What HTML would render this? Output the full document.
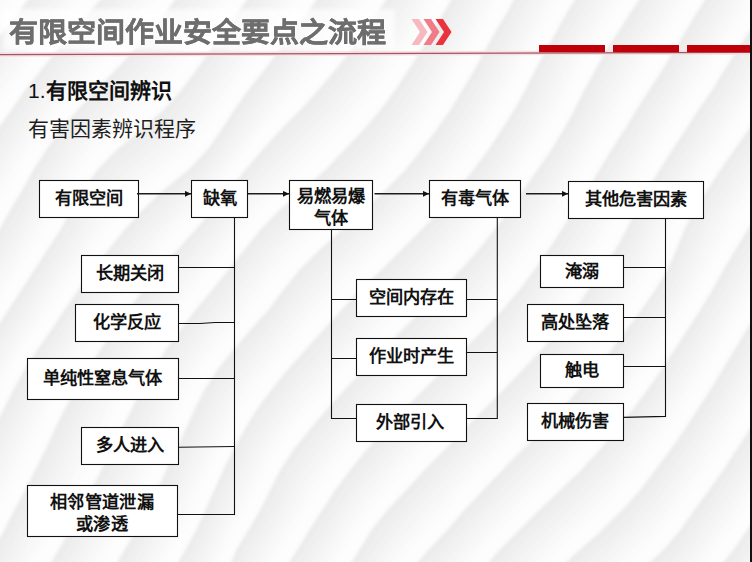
<!DOCTYPE html>
<html lang="zh-CN">
<head>
<meta charset="utf-8">
<style>
html,body{margin:0;padding:0;}
body{width:752px;height:562px;overflow:hidden;position:relative;background:#fbfbfb;font-family:"Liberation Sans",sans-serif;}
#bg{position:absolute;left:0;top:0;}
.t{position:absolute;color:#111;font-weight:bold;font-size:17.2px;line-height:22px;text-align:center;display:flex;align-items:center;justify-content:center;white-space:nowrap;letter-spacing:0;box-sizing:border-box;padding-bottom:2px;}
.t2{padding-bottom:0;padding-top:4px;}
#title{position:absolute;left:9px;top:15.4px;font-size:29px;line-height:34px;font-weight:700;color:#6e6e6e;white-space:nowrap;text-shadow:0 0 3px #fff,0 0 3px #fff;-webkit-text-stroke:0.4px #6e6e6e;transform:scaleY(0.96);transform-origin:0 15px;}
#h1{position:absolute;left:28px;top:78px;font-size:21px;line-height:26px;color:#111;white-space:nowrap;}
#h1 b{font-weight:bold;}
#h2{position:absolute;left:28px;top:116px;font-size:21px;line-height:26px;color:#1e1e1e;white-space:nowrap;}
</style>
</head>
<body>
<svg id="bg" width="752" height="562" viewBox="0 0 752 562">
  <defs>
    <filter id="bl" x="-5%" y="-5%" width="110%" height="110%"><feGaussianBlur stdDeviation="1.5"/></filter>
  </defs>
  
  <g filter="url(#bl)"><path fill="#ececec" d="M-18,-30L-33,-10L-47,10L-61,30L-75,50L-88,70L-101,90L-114,110L-127,130L-139,150L-152,170L-164,190L-176,210L-189,230L-200,250L-200,270L-200,290L-200,310L-200,330L-200,350L-200,370L-200,390L-200,410L-200,430L-200,450L-200,470L-200,490L-200,510L-200,530L-200,550L-200,570L-200,590L-200,590L-200,570L-200,550L-200,530L-200,510L-200,490L-200,470L-200,450L-200,430L-200,410L-200,390L-200,370L-200,350L-200,330L-200,310L-200,290L-200,270L-193,250L-181,230L-168,210L-156,190L-144,170L-131,150L-119,130L-106,110L-94,90L-80,70L-67,50L-53,30L-39,10L-24,-10L-9,-30ZM51,-30L35,-10L20,10L4,30L-11,50L-25,70L-39,90L-52,110L-65,130L-77,150L-89,170L-101,190L-113,210L-126,230L-138,250L-151,270L-163,290L-176,310L-188,330L-200,350L-200,370L-200,390L-200,410L-200,430L-200,450L-200,470L-200,490L-200,510L-200,530L-200,550L-200,570L-200,590L-200,590L-200,570L-200,550L-200,530L-200,510L-200,490L-200,470L-200,450L-200,430L-200,410L-200,390L-200,370L-193,350L-181,330L-168,310L-155,290L-143,270L-130,250L-118,230L-106,210L-93,190L-81,170L-69,150L-57,130L-44,110L-31,90L-17,70L-2,50L13,30L28,10L44,-10L60,-30ZM124,-30L108,-10L91,10L74,30L57,50L41,70L25,90L11,110L-3,130L-15,150L-27,170L-39,190L-51,210L-63,230L-75,250L-88,270L-100,290L-113,310L-126,330L-139,350L-151,370L-164,390L-176,410L-188,430L-200,450L-200,470L-200,490L-200,510L-200,530L-200,550L-200,570L-200,590L-200,590L-200,570L-200,550L-200,530L-200,510L-200,490L-200,470L-193,450L-180,430L-168,410L-156,390L-143,370L-131,350L-118,330L-105,310L-93,290L-80,270L-67,250L-55,230L-43,210L-32,190L-20,170L-8,150L5,130L19,110L33,90L49,70L66,50L83,30L100,10L117,-10L133,-30ZM197,-30L182,-10L167,10L151,30L134,50L115,70L96,90L77,110L60,130L46,150L33,170L22,190L10,210L-1,230L-13,250L-26,270L-38,290L-51,310L-64,330L-77,350L-90,370L-103,390L-115,410L-127,430L-138,450L-150,470L-162,490L-174,510L-186,530L-198,550L-200,570L-200,590L-200,590L-200,570L-190,550L-178,530L-166,510L-154,490L-143,470L-131,450L-119,430L-107,410L-95,390L-83,370L-70,350L-57,330L-44,310L-31,290L-18,270L-6,250L6,230L18,210L29,190L41,170L54,150L68,130L86,110L106,90L125,70L144,50L161,30L176,10L191,-10L206,-30ZM268,-30L254,-10L239,10L225,30L210,50L196,70L181,90L163,110L141,130L116,150L97,170L83,190L71,210L60,230L47,250L34,270L21,290L8,310L-5,330L-19,350L-31,370L-43,390L-55,410L-66,430L-78,450L-89,470L-100,490L-112,510L-123,530L-135,550L-147,570L-159,590L-151,590L-139,570L-127,550L-115,530L-104,510L-92,490L-81,470L-70,450L-59,430L-48,410L-36,390L-24,370L-12,350L2,330L15,310L28,290L41,270L54,250L67,230L79,210L92,190L106,170L128,150L153,130L174,110L190,90L205,70L219,50L234,30L248,10L262,-10L277,-30ZM337,-30L323,-10L309,10L294,30L279,50L264,70L248,90L234,110L221,130L207,150L188,170L163,190L142,210L124,230L108,250L93,270L78,290L64,310L51,330L37,350L24,370L13,390L3,410L-7,430L-17,450L-28,470L-38,490L-49,510L-60,530L-72,550L-83,570L-95,590L-87,590L-75,570L-64,550L-52,530L-41,510L-31,490L-20,470L-10,450L0,430L10,410L21,390L31,370L44,350L58,330L72,310L86,290L101,270L116,250L133,230L151,210L174,190L197,170L214,150L228,130L241,110L256,90L272,70L288,50L303,30L318,10L332,-10L346,-30ZM405,-30L392,-10L379,10L365,30L351,50L335,70L318,90L300,110L280,130L262,150L245,170L229,190L212,210L195,230L177,250L159,270L143,290L128,310L113,330L100,350L87,370L75,390L64,410L54,430L45,450L35,470L25,490L14,510L4,530L-7,550L-19,570L-30,590L-22,590L-11,570L1,550L12,530L23,510L33,490L43,470L53,450L63,430L73,410L83,390L95,370L108,350L121,330L136,310L152,290L168,270L185,250L203,230L220,210L236,190L253,170L271,150L290,130L310,110L328,90L345,70L360,50L374,30L388,10L400,-10L413,-30ZM469,-30L457,-10L445,10L433,30L421,50L408,70L395,90L380,110L363,130L344,150L325,170L303,190L279,210L260,230L244,250L228,270L212,290L195,310L180,330L165,350L153,370L141,390L131,410L121,430L111,450L101,470L91,490L81,510L70,530L58,550L47,570L35,590L43,590L55,570L67,550L78,530L89,510L99,490L110,470L120,450L129,430L139,410L149,390L161,370L174,350L188,330L204,310L220,290L237,270L252,250L269,230L290,210L314,190L335,170L355,150L373,130L389,110L403,90L417,70L429,50L442,30L453,10L465,-10L477,-30ZM531,-30L519,-10L508,10L496,30L485,50L474,70L462,90L450,110L436,130L421,150L405,170L385,190L364,210L341,230L319,250L299,270L283,290L268,310L250,330L233,350L217,370L204,390L194,410L185,430L176,450L166,470L157,490L147,510L136,530L124,550L113,570L100,590L108,590L121,570L133,550L144,530L155,510L164,490L174,470L183,450L193,430L202,410L212,390L226,370L242,350L259,330L277,310L292,290L309,270L329,250L352,230L374,210L395,190L413,170L430,150L445,130L458,110L470,90L482,70L493,50L504,30L515,10L527,-10L539,-30ZM593,-30L581,-10L568,10L557,30L546,50L535,70L525,90L514,110L501,130L488,150L473,170L457,190L440,210L421,230L401,250L381,270L360,290L341,310L323,330L305,350L287,370L271,390L256,410L244,430L233,450L223,470L214,490L205,510L196,530L185,550L174,570L163,590L170,590L181,570L192,550L202,530L212,510L220,490L230,470L240,450L251,430L264,410L280,390L296,370L314,350L332,330L351,310L371,290L391,270L411,250L430,230L449,210L466,190L481,170L496,150L509,130L521,110L532,90L542,70L553,50L564,30L576,10L588,-10L601,-30ZM658,-30L645,-10L632,10L619,30L606,50L595,70L584,90L574,110L563,130L551,150L537,170L523,190L509,210L494,230L478,250L460,270L442,290L422,310L402,330L382,350L363,370L344,390L326,410L309,430L293,450L280,470L270,490L260,510L248,530L236,550L228,570L219,590L225,590L235,570L243,550L256,530L267,510L277,490L288,470L302,450L318,430L335,410L354,390L373,370L392,350L412,330L432,310L452,290L470,270L487,250L502,230L517,210L531,190L545,170L558,150L571,130L582,110L592,90L603,70L615,50L628,30L641,10L654,-10L667,-30ZM724,-30L711,-10L698,10L686,30L674,50L662,70L649,90L636,110L624,130L611,150L599,170L587,190L574,210L561,230L548,250L534,270L519,290L502,310L483,330L463,350L443,370L423,390L403,410L384,430L366,450L350,470L335,490L322,510L309,530L297,550L284,570L273,590L281,590L292,570L304,550L317,530L330,510L343,490L359,470L376,450L394,430L413,410L433,390L453,370L474,350L493,330L511,310L527,290L542,270L556,250L570,230L582,210L595,190L606,170L619,150L632,130L644,110L657,90L670,70L682,50L694,30L706,10L719,-10L732,-30ZM788,-30L775,-10L763,10L750,30L737,50L724,70L712,90L698,110L685,130L672,150L659,170L647,190L636,210L626,230L615,250L602,270L588,290L574,310L558,330L541,350L522,370L503,390L483,410L463,430L444,450L424,470L406,490L387,510L371,530L359,550L346,570L334,590L342,590L354,570L367,550L380,530L397,510L415,490L434,470L454,450L473,430L493,410L513,390L532,370L550,350L567,330L582,310L597,290L611,270L623,250L633,230L644,210L655,190L667,170L680,150L693,130L706,110L719,90L732,70L745,50L758,30L771,10L783,-10L796,-30ZM852,-30L839,-10L827,10L814,30L801,50L787,70L774,90L761,110L748,130L734,150L720,170L707,190L694,210L684,230L676,250L667,270L655,290L641,310L626,330L611,350L595,370L578,390L560,410L542,430L522,450L502,470L483,490L464,510L447,530L428,550L411,570L397,590L405,590L420,570L438,550L456,530L473,510L492,490L512,470L532,450L551,430L570,410L587,390L604,370L619,350L634,330L648,310L662,290L674,270L683,250L691,230L702,210L715,190L728,170L742,150L756,130L769,110L782,90L795,70L808,50L822,30L835,10L848,-10L861,-30ZM917,-30L904,-10L891,10L878,30L865,50L851,70L838,90L825,110L812,130L798,150L785,170L772,190L759,210L747,230L735,250L723,270L712,290L700,310L687,330L674,350L661,370L647,390L632,410L616,430L599,450L581,470L560,490L539,510L519,530L499,550L482,570L465,590L474,590L490,570L509,550L528,530L550,510L571,490L590,470L608,450L625,430L640,410L655,390L668,370L682,350L695,330L707,310L719,290L731,270L742,250L755,230L767,210L780,190L793,170L806,150L820,130L833,110L846,90L859,70L873,50L886,30L899,10L912,-10L925,-30ZM959,-30L959,-10L955,10L942,30L929,50L916,70L903,90L889,110L876,130L863,150L850,170L836,190L823,210L810,230L797,250L785,270L772,290L759,310L746,330L734,350L722,370L710,390L697,410L684,430L670,450L655,470L640,490L622,510L602,530L579,550L558,570L539,590L549,590L569,570L590,550L612,530L632,510L649,490L664,470L678,450L692,430L705,410L718,390L730,370L742,350L754,330L767,310L780,290L793,270L805,250L818,230L831,210L845,190L858,170L871,150L884,130L898,110L911,90L924,70L937,50L950,30L959,10L959,-10L959,-30ZM959,-30L959,-10L959,10L959,30L959,50L959,70L959,90L954,110L941,130L928,150L915,170L901,190L888,210L875,230L862,250L849,270L836,290L823,310L810,330L797,350L785,370L773,390L761,410L749,430L736,450L723,470L709,490L694,510L680,530L663,550L641,570L621,590L631,590L651,570L673,550L688,530L703,510L717,490L731,470L744,450L757,430L769,410L781,390L793,370L805,350L818,330L831,310L844,290L857,270L870,250L883,230L896,210L909,190L923,170L936,150L949,130L959,110L959,90L959,70L959,50L959,30L959,10L959,-10L959,-30ZM959,-30L959,-10L959,10L959,30L959,50L959,70L959,90L959,110L959,130L959,150L959,170L959,190L953,210L940,230L927,250L914,270L901,290L888,310L875,330L862,350L850,370L837,390L825,410L813,430L800,450L788,470L774,490L761,510L747,530L733,550L717,570L700,590L709,590L726,570L741,550L755,530L769,510L783,490L796,470L808,450L821,430L833,410L845,390L858,370L870,350L883,330L896,310L909,290L922,270L935,250L948,230L959,210L959,190L959,170L959,150L959,130L959,110L959,90L959,70L959,50L959,30L959,10L959,-10L959,-30ZM959,-30L959,-10L959,10L959,30L959,50L959,70L959,90L959,110L959,130L959,150L959,170L959,190L959,210L959,230L959,250L959,270L959,290L953,310L940,330L927,350L915,370L902,390L889,410L877,430L864,450L852,470L839,490L826,510L812,530L798,550L784,570L769,590L777,590L792,570L807,550L820,530L834,510L847,490L860,470L872,450L885,430L897,410L910,390L923,370L936,350L949,330L959,310L959,290L959,270L959,250L959,230L959,210L959,190L959,170L959,150L959,130L959,110L959,90L959,70L959,50L959,30L959,10L959,-10L959,-30Z"/><path fill="#efefef" d="M-9,-30L-24,-10L-39,10L-53,30L-67,50L-80,70L-94,90L-106,110L-119,130L-131,150L-144,170L-156,190L-168,210L-181,230L-193,250L-200,270L-200,290L-200,310L-200,330L-200,350L-200,370L-200,390L-200,410L-200,430L-200,450L-200,470L-200,490L-200,510L-200,530L-200,550L-200,570L-200,590L-200,590L-200,570L-200,550L-200,530L-200,510L-200,490L-200,470L-200,450L-200,430L-200,410L-200,390L-200,370L-200,350L-200,330L-200,310L-200,290L-198,270L-185,250L-173,230L-161,210L-148,190L-136,170L-124,150L-111,130L-99,110L-86,90L-73,70L-59,50L-45,30L-31,10L-16,-10L-1,-30ZM60,-30L44,-10L28,10L13,30L-2,50L-17,70L-31,90L-44,110L-57,130L-69,150L-81,170L-93,190L-106,210L-118,230L-130,250L-143,270L-155,290L-168,310L-181,330L-193,350L-200,370L-200,390L-200,410L-200,430L-200,450L-200,470L-200,490L-200,510L-200,530L-200,550L-200,570L-200,590L-200,590L-200,570L-200,550L-200,530L-200,510L-200,490L-200,470L-200,450L-200,430L-200,410L-200,390L-198,370L-185,350L-173,330L-160,310L-147,290L-135,270L-122,250L-110,230L-98,210L-86,190L-74,170L-61,150L-49,130L-36,110L-23,90L-9,70L6,50L21,30L37,10L53,-10L69,-30ZM133,-30L117,-10L100,10L83,30L66,50L49,70L33,90L19,110L5,130L-8,150L-20,170L-32,190L-43,210L-55,230L-67,250L-80,270L-93,290L-105,310L-118,330L-131,350L-143,370L-156,390L-168,410L-180,430L-193,450L-200,470L-200,490L-200,510L-200,530L-200,550L-200,570L-200,590L-200,590L-200,570L-200,550L-200,530L-200,510L-200,490L-197,470L-185,450L-173,430L-160,410L-148,390L-136,370L-123,350L-110,330L-98,310L-85,290L-72,270L-60,250L-48,230L-36,210L-24,190L-12,170L-0,150L13,130L26,110L42,90L58,70L75,50L93,30L110,10L126,-10L142,-30ZM206,-30L191,-10L176,10L161,30L144,50L125,70L106,90L86,110L68,130L54,150L41,170L29,190L18,210L6,230L-6,250L-18,270L-31,290L-44,310L-57,330L-70,350L-83,370L-95,390L-107,410L-119,430L-131,450L-143,470L-154,490L-166,510L-178,530L-190,550L-200,570L-200,590L-200,590L-194,570L-182,550L-170,530L-158,510L-147,490L-135,470L-123,450L-111,430L-100,410L-88,390L-75,370L-62,350L-49,330L-36,310L-23,290L-11,270L2,250L14,230L26,210L37,190L49,170L62,150L77,130L96,110L116,90L136,70L154,50L170,30L186,10L200,-10L215,-30ZM277,-30L262,-10L248,10L234,30L219,50L205,70L190,90L174,110L153,130L128,150L106,170L92,190L79,210L67,230L54,250L41,270L28,290L15,310L2,330L-12,350L-24,370L-36,390L-48,410L-59,430L-70,450L-81,470L-92,490L-104,510L-115,530L-127,550L-139,570L-151,590L-143,590L-131,570L-119,550L-107,530L-96,510L-85,490L-74,470L-63,450L-52,430L-40,410L-29,390L-17,370L-5,350L9,330L22,310L35,290L48,270L62,250L75,230L87,210L101,190L117,170L141,150L166,130L184,110L199,90L214,70L228,50L242,30L257,10L271,-10L285,-30ZM346,-30L332,-10L318,10L303,30L288,50L272,70L256,90L241,110L228,130L214,150L197,170L174,190L151,210L133,230L116,250L101,270L86,290L72,310L58,330L44,350L31,370L21,390L10,410L0,430L-10,450L-20,470L-31,490L-41,510L-52,530L-64,550L-75,570L-87,590L-79,590L-67,570L-56,550L-44,530L-33,510L-23,490L-12,470L-2,450L8,430L18,410L28,390L39,370L52,350L65,330L79,310L94,290L109,270L125,250L142,230L161,210L183,190L205,170L221,150L235,130L249,110L264,90L281,70L297,50L312,30L327,10L341,-10L354,-30ZM413,-30L400,-10L388,10L374,30L360,50L345,70L328,90L310,110L290,130L271,150L253,170L236,190L220,210L203,230L185,250L168,270L152,290L136,310L121,330L108,350L95,370L83,390L73,410L63,430L53,450L43,470L33,490L23,510L12,530L1,550L-11,570L-22,590L-14,590L-2,570L9,550L20,530L31,510L41,490L51,470L61,450L71,430L81,410L92,390L103,370L116,350L130,330L144,310L160,290L177,270L194,250L211,230L228,210L244,190L261,170L280,150L300,130L320,110L338,90L354,70L369,50L383,30L396,10L409,-10L421,-30ZM477,-30L465,-10L453,10L442,30L429,50L417,70L403,90L389,110L373,130L355,150L335,170L314,190L290,210L269,230L252,250L237,270L220,290L204,310L188,330L174,350L161,370L149,390L139,410L129,430L120,450L110,470L99,490L89,510L78,530L67,550L55,570L43,590L51,590L63,570L75,550L86,530L97,510L108,490L118,470L128,450L138,430L147,410L157,390L169,370L182,350L197,330L213,310L229,290L245,270L261,250L279,230L301,210L325,190L345,170L365,150L383,130L398,110L412,90L425,70L438,50L450,30L461,10L473,-10L485,-30ZM539,-30L527,-10L515,10L504,30L493,50L482,70L470,90L458,110L445,130L430,150L413,170L395,190L374,210L352,230L329,250L309,270L292,290L277,310L259,330L242,350L226,370L212,390L202,410L193,430L183,450L174,470L164,490L155,510L144,530L133,550L121,570L108,590L116,590L129,570L140,550L152,530L162,510L172,490L181,470L191,450L200,430L209,410L220,390L235,370L251,350L268,330L285,310L301,290L319,270L340,250L362,230L384,210L404,190L422,170L438,150L453,130L466,110L478,90L490,70L501,50L512,30L523,10L534,-10L546,-30ZM601,-30L588,-10L576,10L564,30L553,50L542,70L532,90L521,110L509,130L496,150L481,170L466,190L449,210L430,230L411,250L391,270L371,290L351,310L332,330L314,350L296,370L280,390L264,410L251,430L240,450L230,470L220,490L212,510L202,530L192,550L181,570L170,590L177,590L188,570L199,550L209,530L218,510L227,490L237,470L247,450L259,430L273,410L288,390L306,370L324,350L342,330L361,310L381,290L401,270L421,250L440,230L458,210L474,190L490,170L504,150L517,130L529,110L540,90L550,70L560,50L572,30L584,10L596,-10L609,-30ZM667,-30L654,-10L641,10L628,30L615,50L603,70L592,90L582,110L571,130L558,150L545,170L531,190L517,210L502,230L487,250L470,270L452,290L432,310L412,330L392,350L373,370L354,390L335,410L318,430L302,450L288,470L277,490L267,510L256,530L243,550L235,570L225,590L232,590L241,570L250,550L263,530L275,510L285,490L297,470L311,450L327,430L345,410L363,390L383,370L402,350L422,330L442,310L462,290L479,270L496,250L511,230L525,210L539,190L553,170L566,150L578,130L589,110L600,90L611,70L623,50L636,30L649,10L662,-10L675,-30ZM732,-30L719,-10L706,10L694,30L682,50L670,70L657,90L644,110L632,130L619,150L606,170L595,190L582,210L570,230L556,250L542,270L527,290L511,310L493,330L474,350L453,370L433,390L413,410L394,430L376,450L359,470L343,490L330,510L317,530L304,550L292,570L281,590L288,590L300,570L312,550L325,530L338,510L352,490L368,470L385,450L404,430L423,410L443,390L464,370L483,350L503,330L520,310L536,290L551,270L565,250L578,230L590,210L602,190L614,170L627,150L640,130L652,110L665,90L678,70L690,50L702,30L715,10L727,-10L740,-30ZM796,-30L783,-10L771,10L758,30L745,50L732,70L719,90L706,110L693,130L680,150L667,170L655,190L644,210L633,230L623,250L611,270L597,290L582,310L567,330L550,350L532,370L513,390L493,410L473,430L454,450L434,470L415,490L397,510L380,530L367,550L354,570L342,590L349,590L362,570L375,550L389,530L407,510L425,490L444,470L463,450L483,430L503,410L522,390L541,370L559,350L575,330L591,310L605,290L619,270L631,250L641,230L651,210L662,190L674,170L687,150L701,130L714,110L727,90L740,70L753,50L766,30L779,10L791,-10L804,-30ZM861,-30L848,-10L835,10L822,30L808,50L795,70L782,90L769,110L756,130L742,150L728,170L715,190L702,210L691,230L683,250L674,270L662,290L648,310L634,330L619,350L604,370L587,390L570,410L551,430L532,450L512,470L492,490L473,510L456,530L438,550L420,570L405,590L413,590L429,570L447,550L464,530L482,510L501,490L521,470L541,450L561,430L579,410L596,390L612,370L627,350L642,330L656,310L670,290L681,270L690,250L699,230L710,210L723,190L736,170L750,150L763,130L777,110L790,90L803,70L816,50L830,30L843,10L856,-10L869,-30ZM925,-30L912,-10L899,10L886,30L873,50L859,70L846,90L833,110L820,130L806,150L793,170L780,190L767,210L755,230L742,250L731,270L719,290L707,310L695,330L682,350L668,370L655,390L640,410L625,430L608,450L590,470L571,490L550,510L528,530L509,550L490,570L474,590L483,590L500,570L518,550L538,530L560,510L581,490L600,470L618,450L633,430L648,410L663,390L676,370L689,350L702,330L714,310L726,290L738,270L750,250L763,230L775,210L788,190L801,170L814,150L828,130L841,110L854,90L867,70L881,50L894,30L907,10L920,-10L933,-30ZM959,-30L959,-10L959,10L950,30L937,50L924,70L911,90L898,110L884,130L871,150L858,170L845,190L831,210L818,230L805,250L793,270L780,290L767,310L754,330L742,350L730,370L718,390L705,410L692,430L678,450L664,470L649,490L632,510L612,530L590,550L569,570L549,590L559,590L579,570L601,550L622,530L641,510L658,490L672,470L686,450L700,430L713,410L726,390L738,370L750,350L762,330L775,310L788,290L800,270L813,250L826,230L839,210L853,190L866,170L879,150L892,130L906,110L919,90L932,70L945,50L959,30L959,10L959,-10L959,-30ZM959,-30L959,-10L959,10L959,30L959,50L959,70L959,90L959,110L949,130L936,150L923,170L909,190L896,210L883,230L870,250L857,270L844,290L831,310L818,330L805,350L793,370L781,390L769,410L757,430L744,450L731,470L717,490L703,510L688,530L673,550L651,570L631,590L641,590L662,570L682,550L697,530L711,510L725,490L739,470L752,450L765,430L777,410L789,390L801,370L813,350L826,330L839,310L852,290L865,270L878,250L891,230L904,210L918,190L931,170L944,150L957,130L959,110L959,90L959,70L959,50L959,30L959,10L959,-10L959,-30ZM959,-30L959,-10L959,10L959,30L959,50L959,70L959,90L959,110L959,130L959,150L959,170L959,190L959,210L948,230L935,250L922,270L909,290L896,310L883,330L870,350L858,370L845,390L833,410L821,430L808,450L796,470L783,490L769,510L755,530L741,550L726,570L709,590L718,590L734,570L749,550L763,530L777,510L791,490L804,470L816,450L829,430L841,410L853,390L866,370L879,350L891,330L904,310L917,290L930,270L943,250L957,230L959,210L959,190L959,170L959,150L959,130L959,110L959,90L959,70L959,50L959,30L959,10L959,-10L959,-30ZM959,-30L959,-10L959,10L959,30L959,50L959,70L959,90L959,110L959,130L959,150L959,170L959,190L959,210L959,230L959,250L959,270L959,290L959,310L949,330L936,350L923,370L910,390L897,410L885,430L872,450L860,470L847,490L834,510L820,530L807,550L792,570L777,590L786,590L801,570L815,550L828,530L842,510L855,490L868,470L880,450L893,430L906,410L918,390L931,370L944,350L957,330L959,310L959,290L959,270L959,250L959,230L959,210L959,190L959,170L959,150L959,130L959,110L959,90L959,70L959,50L959,30L959,10L959,-10L959,-30Z"/><path fill="#f2f2f2" d="M-1,-30L-16,-10L-31,10L-45,30L-59,50L-73,70L-86,90L-99,110L-111,130L-124,150L-136,170L-148,190L-161,210L-173,230L-185,250L-198,270L-200,290L-200,310L-200,330L-200,350L-200,370L-200,390L-200,410L-200,430L-200,450L-200,470L-200,490L-200,510L-200,530L-200,550L-200,570L-200,590L-200,590L-200,570L-200,550L-200,530L-200,510L-200,490L-200,470L-200,450L-200,430L-200,410L-200,390L-200,370L-200,350L-200,330L-200,310L-200,290L-190,270L-177,250L-165,230L-153,210L-140,190L-128,170L-116,150L-103,130L-91,110L-78,90L-65,70L-51,50L-37,30L-22,10L-7,-10L8,-30ZM69,-30L53,-10L37,10L21,30L6,50L-9,70L-23,90L-36,110L-49,130L-61,150L-74,170L-86,190L-98,210L-110,230L-122,250L-135,270L-147,290L-160,310L-173,330L-185,350L-198,370L-200,390L-200,410L-200,430L-200,450L-200,470L-200,490L-200,510L-200,530L-200,550L-200,570L-200,590L-200,590L-200,570L-200,550L-200,530L-200,510L-200,490L-200,470L-200,450L-200,430L-200,410L-200,390L-190,370L-177,350L-165,330L-152,310L-140,290L-127,270L-114,250L-102,230L-90,210L-78,190L-66,170L-54,150L-41,130L-29,110L-15,90L-1,70L14,50L30,30L46,10L62,-10L78,-30ZM142,-30L126,-10L110,10L93,30L75,50L58,70L42,90L26,110L13,130L-0,150L-12,170L-24,190L-36,210L-48,230L-60,250L-72,270L-85,290L-98,310L-110,330L-123,350L-136,370L-148,390L-160,410L-173,430L-185,450L-197,470L-200,490L-200,510L-200,530L-200,550L-200,570L-200,590L-200,590L-200,570L-200,550L-200,530L-200,510L-200,490L-189,470L-177,450L-165,430L-153,410L-141,390L-128,370L-116,350L-103,330L-90,310L-77,290L-64,270L-52,250L-40,230L-28,210L-16,190L-5,170L8,150L20,130L35,110L50,90L67,70L85,50L102,30L119,10L136,-10L152,-30ZM215,-30L200,-10L186,10L170,30L154,50L136,70L116,90L96,110L77,130L62,150L49,170L37,190L26,210L14,230L2,250L-11,270L-23,290L-36,310L-49,330L-62,350L-75,370L-88,390L-100,410L-111,430L-123,450L-135,470L-147,490L-158,510L-170,530L-182,550L-194,570L-200,590L-198,590L-186,570L-174,550L-162,530L-151,510L-139,490L-127,470L-115,450L-104,430L-92,410L-80,390L-68,370L-55,350L-42,330L-28,310L-16,290L-3,270L9,250L22,230L33,210L45,190L56,170L70,150L86,130L106,110L127,90L146,70L164,50L180,30L195,10L209,-10L224,-30ZM285,-30L271,-10L257,10L242,30L228,50L214,70L199,90L184,110L166,130L141,150L117,170L101,190L87,210L75,230L62,250L48,270L35,290L22,310L9,330L-5,350L-17,370L-29,390L-40,410L-52,430L-63,450L-74,470L-85,490L-96,510L-107,530L-119,550L-131,570L-143,590L-135,590L-123,570L-111,550L-100,530L-88,510L-77,490L-66,470L-55,450L-44,430L-33,410L-22,390L-10,370L2,350L15,330L29,310L42,290L56,270L69,250L82,230L95,210L110,190L129,170L154,150L178,130L194,110L208,90L222,70L236,50L251,30L266,10L280,-10L294,-30ZM354,-30L341,-10L327,10L312,30L297,50L281,70L264,90L249,110L235,130L221,150L205,170L183,190L161,210L142,230L125,250L109,270L94,290L79,310L65,330L52,350L39,370L28,390L18,410L8,430L-2,450L-12,470L-23,490L-33,510L-44,530L-56,550L-67,570L-79,590L-71,590L-59,570L-48,550L-36,530L-26,510L-15,490L-5,470L5,450L15,430L25,410L35,390L46,370L59,350L73,330L87,310L102,290L117,270L133,250L151,230L171,210L192,190L212,170L227,150L242,130L256,110L273,90L289,70L306,50L321,30L336,10L349,-10L363,-30ZM421,-30L409,-10L396,10L383,30L369,50L354,70L338,90L320,110L300,130L280,150L261,170L244,190L228,210L211,230L194,250L177,270L160,290L144,310L130,330L116,350L103,370L92,390L81,410L71,430L61,450L51,470L41,490L31,510L20,530L9,550L-2,570L-14,590L-6,590L6,570L17,550L28,530L39,510L49,490L59,470L69,450L79,430L89,410L100,390L112,370L124,350L138,330L153,310L169,290L185,270L202,250L219,230L235,210L252,190L270,170L290,150L310,130L330,110L348,90L364,70L378,50L392,30L404,10L417,-10L429,-30ZM485,-30L473,-10L461,10L450,30L438,50L425,70L412,90L398,110L383,130L365,150L345,170L325,190L301,210L279,230L261,250L245,270L229,290L213,310L197,330L182,350L169,370L157,390L147,410L138,430L128,450L118,470L108,490L97,510L86,530L75,550L63,570L51,590L60,590L72,570L83,550L95,530L106,510L116,490L126,470L136,450L146,430L155,410L165,390L177,370L190,350L205,330L222,310L238,290L254,270L270,250L289,230L312,210L335,190L355,170L375,150L392,130L407,110L421,90L434,70L446,50L458,30L469,10L481,-10L492,-30ZM546,-30L534,-10L523,10L512,30L501,50L490,70L478,90L466,110L453,130L438,150L422,170L404,190L384,210L362,230L340,250L319,270L301,290L285,310L268,330L251,350L235,370L220,390L209,410L200,430L191,450L181,470L172,490L162,510L152,530L140,550L129,570L116,590L124,590L137,570L148,550L160,530L170,510L179,490L188,470L198,450L207,430L217,410L229,390L243,370L260,350L277,330L294,310L310,290L329,270L350,250L372,230L394,210L413,190L431,170L447,150L461,130L474,110L486,90L497,70L508,50L519,30L530,10L542,-10L554,-30ZM609,-30L596,-10L584,10L572,30L560,50L550,70L540,90L529,110L517,130L504,150L490,170L474,190L458,210L440,230L421,250L401,270L381,290L361,310L342,330L324,350L306,370L288,390L273,410L259,430L247,450L237,470L227,490L218,510L209,530L199,550L188,570L177,590L184,590L195,570L205,550L215,530L225,510L234,490L244,470L254,450L267,430L281,410L297,390L315,370L333,350L352,330L371,310L391,290L411,270L431,250L449,230L467,210L483,190L498,170L512,150L525,130L536,110L547,90L557,70L568,50L579,30L592,10L604,-10L617,-30ZM675,-30L662,-10L649,10L636,30L623,50L611,70L600,90L589,110L578,130L566,150L553,170L539,190L525,210L511,230L496,250L479,270L462,290L442,310L422,330L402,350L383,370L363,390L345,410L327,430L311,450L297,470L285,490L275,510L263,530L250,550L241,570L232,590L239,590L248,570L258,550L271,530L282,510L293,490L305,470L320,450L337,430L354,410L373,390L393,370L413,350L433,330L452,310L471,290L489,270L505,250L520,230L534,210L547,190L561,170L574,150L586,130L597,110L608,90L619,70L632,50L645,30L657,10L670,-10L683,-30ZM740,-30L727,-10L715,10L702,30L690,50L678,70L665,90L652,110L640,130L627,150L614,170L602,190L590,210L578,230L565,250L551,270L536,290L520,310L503,330L483,350L464,370L443,390L423,410L404,430L385,450L368,470L352,490L338,510L325,530L312,550L300,570L288,590L296,590L307,570L320,550L333,530L345,510L360,490L377,470L395,450L414,430L433,410L453,390L474,370L493,350L512,330L529,310L545,290L560,270L573,250L586,230L598,210L610,190L622,170L635,150L647,130L660,110L673,90L685,70L698,50L710,30L723,10L735,-10L748,-30ZM804,-30L791,-10L779,10L766,30L753,50L740,70L727,90L714,110L701,130L687,150L674,170L662,190L651,210L641,230L631,250L619,270L605,290L591,310L575,330L559,350L541,370L522,390L503,410L483,430L463,450L444,470L425,490L407,510L389,530L375,550L362,570L349,590L357,590L370,570L383,550L398,530L416,510L435,490L454,470L473,450L493,430L513,410L532,390L550,370L568,350L584,330L599,310L614,290L627,270L639,250L648,230L658,210L669,190L682,170L695,150L708,130L722,110L735,90L748,70L761,50L774,30L787,10L799,-10L812,-30ZM869,-30L856,-10L843,10L830,30L816,50L803,70L790,90L777,110L763,130L750,150L736,170L723,190L710,210L699,230L690,250L681,270L670,290L656,310L642,330L627,350L612,370L596,390L579,410L561,430L541,450L521,470L501,490L482,510L464,530L447,550L429,570L413,590L422,590L438,570L456,550L473,530L491,510L511,490L531,470L551,450L570,430L588,410L605,390L620,370L635,350L650,330L664,310L677,290L688,270L697,250L706,230L718,210L731,190L744,170L758,150L771,130L785,110L798,90L811,70L824,50L838,30L851,10L864,-10L877,-30ZM933,-30L920,-10L907,10L894,30L881,50L867,70L854,90L841,110L828,130L814,150L801,170L788,190L775,210L763,230L750,250L738,270L726,290L714,310L702,330L689,350L676,370L663,390L648,410L633,430L618,450L600,470L581,490L560,510L538,530L518,550L500,570L483,590L492,590L509,570L528,550L549,530L570,510L591,490L610,470L627,450L642,430L657,410L671,390L684,370L697,350L709,330L722,310L734,290L746,270L758,250L770,230L783,210L796,190L809,170L822,150L836,130L849,110L862,90L876,70L889,50L902,30L915,10L928,-10L941,-30ZM959,-30L959,-10L959,10L959,30L945,50L932,70L919,90L906,110L892,130L879,150L866,170L853,190L839,210L826,230L813,250L800,270L788,290L775,310L762,330L750,350L738,370L726,390L713,410L700,430L686,450L672,470L658,490L641,510L622,530L601,550L579,570L559,590L569,590L590,570L611,550L632,530L651,510L666,490L681,470L695,450L708,430L721,410L733,390L745,370L757,350L770,330L783,310L795,290L808,270L821,250L834,230L848,210L861,190L874,170L887,150L900,130L914,110L927,90L940,70L953,50L959,30L959,10L959,-10L959,-30ZM959,-30L959,-10L959,10L959,30L959,50L959,70L959,90L959,110L957,130L944,150L931,170L918,190L904,210L891,230L878,250L865,270L852,290L839,310L826,330L813,350L801,370L789,390L777,410L765,430L752,450L739,470L725,490L711,510L697,530L682,550L662,570L641,590L651,590L672,570L691,550L705,530L720,510L734,490L747,470L760,450L773,430L785,410L797,390L809,370L822,350L834,330L847,310L860,290L873,270L886,250L899,230L913,210L926,190L939,170L952,150L959,130L959,110L959,90L959,70L959,50L959,30L959,10L959,-10L959,-30ZM959,-30L959,-10L959,10L959,30L959,50L959,70L959,90L959,110L959,130L959,150L959,170L959,190L959,210L957,230L943,250L930,270L917,290L904,310L891,330L879,350L866,370L853,390L841,410L829,430L816,450L804,470L791,490L777,510L763,530L749,550L734,570L718,590L727,590L742,570L757,550L772,530L785,510L799,490L812,470L824,450L837,430L849,410L861,390L874,370L887,350L899,330L912,310L925,290L938,270L952,250L959,230L959,210L959,190L959,170L959,150L959,130L959,110L959,90L959,70L959,50L959,30L959,10L959,-10L959,-30Z"/><path fill="#f5f5f5" d="M8,-30L-7,-10L-22,10L-37,30L-51,50L-65,70L-78,90L-91,110L-103,130L-116,150L-128,170L-140,190L-153,210L-165,230L-177,250L-190,270L-200,290L-200,310L-200,330L-200,350L-200,370L-200,390L-200,410L-200,430L-200,450L-200,470L-200,490L-200,510L-200,530L-200,550L-200,570L-200,590L-200,590L-200,570L-200,550L-200,530L-200,510L-200,490L-200,470L-200,450L-200,430L-200,410L-200,390L-200,370L-200,350L-200,330L-200,310L-195,290L-182,270L-170,250L-157,230L-145,210L-132,190L-120,170L-108,150L-96,130L-83,110L-70,90L-57,70L-43,50L-29,30L-14,10L1,-10L16,-30ZM78,-30L62,-10L46,10L30,30L14,50L-1,70L-15,90L-29,110L-41,130L-54,150L-66,170L-78,190L-90,210L-102,230L-114,250L-127,270L-140,290L-152,310L-165,330L-177,350L-190,370L-200,390L-200,410L-200,430L-200,450L-200,470L-200,490L-200,510L-200,530L-200,550L-200,570L-200,590L-200,590L-200,570L-200,550L-200,530L-200,510L-200,490L-200,470L-200,450L-200,430L-200,410L-195,390L-182,370L-170,350L-157,330L-144,310L-132,290L-119,270L-107,250L-94,230L-82,210L-70,190L-58,170L-46,150L-34,130L-21,110L-7,90L7,70L23,50L38,30L55,10L71,-10L87,-30ZM152,-30L136,-10L119,10L102,30L85,50L67,70L50,90L35,110L20,130L8,150L-5,170L-16,190L-28,210L-40,230L-52,250L-64,270L-77,290L-90,310L-103,330L-116,350L-128,370L-141,390L-153,410L-165,430L-177,450L-189,470L-200,490L-200,510L-200,530L-200,550L-200,570L-200,590L-200,590L-200,570L-200,550L-200,530L-200,510L-193,490L-181,470L-169,450L-157,430L-145,410L-133,390L-120,370L-108,350L-95,330L-82,310L-69,290L-57,270L-44,250L-32,230L-20,210L-9,190L3,170L15,150L28,130L43,110L59,90L76,70L94,50L112,30L129,10L145,-10L161,-30ZM224,-30L209,-10L195,10L180,30L164,50L146,70L127,90L106,110L86,130L70,150L56,170L45,190L33,210L22,230L9,250L-3,270L-16,290L-28,310L-42,330L-55,350L-68,370L-80,390L-92,410L-104,430L-115,450L-127,470L-139,490L-151,510L-162,530L-174,550L-186,570L-198,590L-190,590L-178,570L-166,550L-154,530L-143,510L-131,490L-119,470L-108,450L-96,430L-85,410L-73,390L-60,370L-48,350L-34,330L-21,310L-8,290L4,270L17,250L29,230L41,210L52,190L64,170L78,150L95,130L117,110L138,90L157,70L173,50L189,30L204,10L218,-10L233,-30ZM294,-30L280,-10L266,10L251,30L236,50L222,70L208,90L194,110L178,130L154,150L129,170L110,190L95,210L82,230L69,250L56,270L42,290L29,310L15,330L2,350L-10,370L-22,390L-33,410L-44,430L-55,450L-66,470L-77,490L-88,510L-100,530L-111,550L-123,570L-135,590L-127,590L-115,570L-103,550L-92,530L-80,510L-69,490L-58,470L-47,450L-37,430L-26,410L-15,390L-3,370L9,350L22,330L36,310L49,290L63,270L77,250L90,230L104,210L120,190L141,170L167,150L188,130L203,110L216,90L230,70L245,50L260,30L274,10L289,-10L303,-30ZM363,-30L349,-10L336,10L321,30L306,50L289,70L273,90L256,110L242,130L227,150L212,170L192,190L171,210L151,230L133,250L117,270L102,290L87,310L73,330L59,350L46,370L35,390L25,410L15,430L5,450L-5,470L-15,490L-26,510L-36,530L-48,550L-59,570L-71,590L-63,590L-51,570L-40,550L-28,530L-18,510L-7,490L3,470L13,450L23,430L33,410L43,390L54,370L67,350L81,330L95,310L110,290L125,270L142,250L160,230L180,210L200,190L218,170L234,150L249,130L264,110L281,90L298,70L315,50L330,30L344,10L358,-10L371,-30ZM429,-30L417,-10L404,10L392,30L378,50L364,70L348,90L330,110L310,130L290,150L270,170L252,190L235,210L219,230L202,250L185,270L169,290L153,310L138,330L124,350L112,370L100,390L89,410L79,430L69,450L59,470L49,490L39,510L28,530L17,550L6,570L-6,590L2,590L14,570L25,550L36,530L47,510L58,490L68,470L78,450L87,430L98,410L108,390L120,370L132,350L146,330L161,310L177,290L194,270L211,250L227,230L243,210L260,190L280,170L301,150L321,130L340,110L357,90L373,70L387,50L400,30L413,10L425,-10L437,-30ZM492,-30L481,-10L469,10L458,30L446,50L434,70L421,90L407,110L392,130L375,150L355,170L335,190L312,210L289,230L270,250L254,270L238,290L222,310L205,330L190,350L177,370L165,390L155,410L146,430L136,450L126,470L116,490L106,510L95,530L83,550L72,570L60,590L68,590L80,570L92,550L103,530L114,510L125,490L135,470L144,450L154,430L163,410L173,390L185,370L198,350L214,330L231,310L247,290L263,270L279,250L299,230L323,210L345,190L366,170L385,150L401,130L416,110L429,90L442,70L454,50L466,30L477,10L488,-10L500,-30ZM554,-30L542,-10L530,10L519,30L508,50L497,70L486,90L474,110L461,130L447,150L431,170L413,190L394,210L372,230L350,250L329,270L310,290L294,310L277,330L260,350L243,370L229,390L217,410L207,430L198,450L188,470L179,490L170,510L160,530L148,550L137,570L124,590L132,590L144,570L156,550L167,530L177,510L186,490L195,470L205,450L214,430L225,410L237,390L252,370L269,350L286,330L303,310L320,290L339,270L361,250L382,230L403,210L422,190L440,170L455,150L469,130L482,110L494,90L505,70L516,50L527,30L538,10L550,-10L562,-30ZM617,-30L604,-10L592,10L579,30L568,50L557,70L547,90L536,110L525,130L512,150L498,170L483,190L467,210L449,230L431,250L411,270L391,290L371,310L352,330L333,350L315,370L297,390L281,410L267,430L254,450L244,470L234,490L225,510L215,530L205,550L195,570L184,590L191,590L202,570L212,550L221,530L232,510L241,490L251,470L262,450L275,430L290,410L306,390L324,370L343,350L362,330L381,310L401,290L421,270L440,250L458,230L475,210L491,190L505,170L519,150L533,130L544,110L554,90L565,70L575,50L587,30L600,10L613,-10L626,-30ZM683,-30L670,-10L657,10L645,30L632,50L619,70L608,90L597,110L586,130L574,150L561,170L547,190L534,210L520,230L505,250L489,270L471,290L452,310L433,330L413,350L393,370L373,390L354,410L337,430L320,450L305,470L293,490L282,510L271,530L258,550L248,570L239,590L246,590L255,570L266,550L278,530L290,510L301,490L314,470L329,450L346,430L364,410L383,390L403,370L423,350L443,330L463,310L481,290L498,270L513,250L528,230L542,210L555,190L568,170L581,150L593,130L605,110L616,90L628,70L640,50L653,30L666,10L678,-10L691,-30ZM748,-30L735,-10L723,10L710,30L698,50L685,70L673,90L660,110L647,130L635,150L622,170L610,190L598,210L586,230L573,250L560,270L545,290L529,310L512,330L493,350L474,370L453,390L433,410L414,430L395,450L377,470L360,490L345,510L333,530L320,550L307,570L296,590L303,590L315,570L328,550L340,530L353,510L369,490L386,470L404,450L424,430L443,410L464,390L484,370L503,350L521,330L538,310L554,290L568,270L582,250L594,230L606,210L617,190L629,170L642,150L655,130L668,110L681,90L693,70L706,50L718,30L731,10L743,-10L756,-30ZM812,-30L799,-10L787,10L774,30L761,50L748,70L735,90L722,110L708,130L695,150L682,170L669,190L658,210L648,230L639,250L627,270L614,290L599,310L584,330L568,350L550,370L532,390L513,410L493,430L473,450L454,470L435,490L416,510L398,530L383,550L370,570L357,590L365,590L378,570L391,550L408,530L426,510L445,490L463,470L483,450L503,430L522,410L541,390L560,370L577,350L593,330L608,310L622,290L635,270L646,250L655,230L665,210L676,190L689,170L703,150L716,130L730,110L743,90L756,70L769,50L782,30L795,10L807,-10L820,-30ZM877,-30L864,-10L851,10L838,30L824,50L811,70L798,90L785,110L771,130L758,150L744,170L731,190L718,210L706,230L697,250L688,270L677,290L664,310L650,330L635,350L620,370L605,390L588,410L570,430L551,450L531,470L511,490L491,510L473,530L456,550L438,570L422,590L430,590L447,570L464,550L482,530L501,510L521,490L541,470L561,450L580,430L597,410L613,390L629,370L643,350L657,330L671,310L684,290L695,270L704,250L714,230L726,210L739,190L753,170L766,150L779,130L793,110L806,90L819,70L832,50L846,30L859,10L872,-10L885,-30ZM941,-30L928,-10L915,10L902,30L889,50L876,70L862,90L849,110L836,130L822,150L809,170L796,190L783,210L770,230L758,250L746,270L734,290L722,310L709,330L697,350L684,370L671,390L657,410L642,430L627,450L610,470L591,490L570,510L549,530L528,550L509,570L492,590L501,590L519,570L538,550L559,530L581,510L601,490L619,470L635,450L650,430L665,410L678,390L692,370L704,350L717,330L729,310L741,290L753,270L766,250L778,230L791,210L804,190L817,170L831,150L844,130L857,110L870,90L884,70L897,50L910,30L923,10L936,-10L949,-30ZM959,-30L959,-10L959,10L959,30L953,50L940,70L927,90L914,110L900,130L887,150L874,170L861,190L848,210L834,230L821,250L808,270L795,290L783,310L770,330L757,350L745,370L733,390L721,410L708,430L695,450L681,470L666,490L651,510L632,530L611,550L590,570L569,590L580,590L600,570L621,550L642,530L660,510L675,490L689,470L703,450L716,430L729,410L741,390L753,370L765,350L778,330L791,310L803,290L816,270L829,250L843,230L856,210L869,190L882,170L895,150L909,130L922,110L935,90L948,70L959,50L959,30L959,10L959,-10L959,-30ZM959,-30L959,-10L959,10L959,30L959,50L959,70L959,90L959,110L959,130L952,150L939,170L926,190L913,210L899,230L886,250L873,270L860,290L847,310L834,330L822,350L809,370L797,390L785,410L773,430L760,450L747,470L734,490L720,510L705,530L691,550L672,570L651,590L661,590L682,570L699,550L714,530L728,510L742,490L755,470L768,450L781,430L793,410L805,390L817,370L830,350L842,330L855,310L868,290L881,270L894,250L908,230L921,210L934,190L947,170L959,150L959,130L959,110L959,90L959,70L959,50L959,30L959,10L959,-10L959,-30ZM959,-30L959,-10L959,10L959,30L959,50L959,70L959,90L959,110L959,130L959,150L959,170L959,190L959,210L959,230L952,250L938,270L925,290L912,310L899,330L887,350L874,370L861,390L849,410L837,430L824,450L812,470L799,490L785,510L772,530L757,550L742,570L727,590L735,590L751,570L766,550L780,530L793,510L807,490L820,470L832,450L845,430L857,410L870,390L882,370L895,350L908,330L921,310L934,290L947,270L959,250L959,230L959,210L959,190L959,170L959,150L959,130L959,110L959,90L959,70L959,50L959,30L959,10L959,-10L959,-30Z"/><path fill="#f8f8f8" d="M16,-30L1,-10L-14,10L-29,30L-43,50L-57,70L-70,90L-83,110L-96,130L-108,150L-120,170L-132,190L-145,210L-157,230L-170,250L-182,270L-195,290L-200,310L-200,330L-200,350L-200,370L-200,390L-200,410L-200,430L-200,450L-200,470L-200,490L-200,510L-200,530L-200,550L-200,570L-200,590L-200,590L-200,570L-200,550L-200,530L-200,510L-200,490L-200,470L-200,450L-200,430L-200,410L-200,390L-200,370L-200,350L-200,330L-199,310L-187,290L-174,270L-162,250L-149,230L-137,210L-125,190L-112,170L-100,150L-88,130L-75,110L-62,90L-49,70L-35,50L-21,30L-6,10L10,-10L25,-30ZM87,-30L71,-10L55,10L38,30L23,50L7,70L-7,90L-21,110L-34,130L-46,150L-58,170L-70,190L-82,210L-94,230L-107,250L-119,270L-132,290L-144,310L-157,330L-170,350L-182,370L-195,390L-200,410L-200,430L-200,450L-200,470L-200,490L-200,510L-200,530L-200,550L-200,570L-200,590L-200,590L-200,570L-200,550L-200,530L-200,510L-200,490L-200,470L-200,450L-200,430L-199,410L-187,390L-174,370L-162,350L-149,330L-137,310L-124,290L-111,270L-99,250L-86,230L-74,210L-62,190L-50,170L-38,150L-26,130L-13,110L1,90L16,70L31,50L47,30L64,10L80,-10L96,-30ZM161,-30L145,-10L129,10L112,30L94,50L76,70L59,90L43,110L28,130L15,150L3,170L-9,190L-20,210L-32,230L-44,250L-57,270L-69,290L-82,310L-95,330L-108,350L-120,370L-133,390L-145,410L-157,430L-169,450L-181,470L-193,490L-200,510L-200,530L-200,550L-200,570L-200,590L-200,590L-200,570L-200,550L-200,530L-197,510L-185,490L-173,470L-162,450L-150,430L-137,410L-125,390L-113,370L-100,350L-87,330L-74,310L-61,290L-49,270L-36,250L-24,230L-13,210L-1,190L11,170L23,150L36,130L51,110L68,90L86,70L104,50L122,30L138,10L154,-10L170,-30ZM233,-30L218,-10L204,10L189,30L173,50L157,70L138,90L117,110L95,130L78,150L64,170L52,190L41,210L29,230L17,250L4,270L-8,290L-21,310L-34,330L-48,350L-60,370L-73,390L-85,410L-96,430L-108,450L-119,470L-131,490L-143,510L-154,530L-166,550L-178,570L-190,590L-182,590L-170,570L-158,550L-147,530L-135,510L-123,490L-112,470L-100,450L-89,430L-77,410L-65,390L-53,370L-40,350L-27,330L-14,310L-1,290L12,270L24,250L37,230L48,210L60,190L72,170L86,150L105,130L128,110L149,90L167,70L183,50L198,30L213,10L227,-10L242,-30ZM303,-30L289,-10L274,10L260,30L245,50L230,70L216,90L203,110L188,130L167,150L141,170L120,190L104,210L90,230L77,250L63,270L49,290L36,310L22,330L9,350L-3,370L-15,390L-26,410L-37,430L-47,450L-58,470L-69,490L-80,510L-92,530L-103,550L-115,570L-127,590L-119,590L-107,570L-95,550L-84,530L-73,510L-62,490L-51,470L-40,450L-29,430L-19,410L-8,390L3,370L16,350L29,330L43,310L56,290L70,270L84,250L98,230L113,210L130,190L154,170L179,150L197,130L211,110L225,90L239,70L253,50L268,30L283,10L297,-10L311,-30ZM371,-30L358,-10L344,10L330,30L315,50L298,70L281,90L264,110L249,130L234,150L218,170L200,190L180,210L160,230L142,250L125,270L110,290L95,310L81,330L67,350L54,370L43,390L33,410L23,430L13,450L3,470L-7,490L-18,510L-28,530L-40,550L-51,570L-63,590L-55,590L-43,570L-32,550L-20,530L-10,510L1,490L11,470L21,450L31,430L41,410L51,390L62,370L75,350L89,330L103,310L118,290L134,270L151,250L169,230L189,210L208,190L225,170L240,150L256,130L273,110L290,90L307,70L324,50L339,30L353,10L367,-10L380,-30ZM437,-30L425,-10L413,10L400,30L387,50L373,70L357,90L340,110L321,130L301,150L280,170L260,190L243,210L227,230L211,250L194,270L177,290L161,310L146,330L132,350L120,370L108,390L98,410L87,430L78,450L68,470L58,490L47,510L36,530L25,550L14,570L2,590L10,590L22,570L34,550L45,530L56,510L66,490L76,470L86,450L96,430L106,410L117,390L128,370L141,350L154,330L170,310L186,290L202,270L219,250L235,230L251,210L270,190L291,170L312,150L332,130L350,110L367,90L382,70L396,50L409,30L421,10L433,-10L445,-30ZM500,-30L488,-10L477,10L466,30L454,50L442,70L429,90L416,110L401,130L385,150L366,170L345,190L323,210L299,230L279,250L263,270L247,290L231,310L214,330L198,350L185,370L173,390L163,410L154,430L144,450L135,470L125,490L114,510L103,530L92,550L80,570L68,590L76,590L88,570L100,550L111,530L122,510L133,490L143,470L152,450L162,430L171,410L181,390L193,370L207,350L223,330L240,310L256,290L271,270L289,250L310,230L333,210L355,190L376,170L394,150L410,130L425,110L438,90L450,70L462,50L473,30L485,10L496,-10L508,-30ZM562,-30L550,-10L538,10L527,30L516,50L505,70L494,90L482,110L469,130L455,150L440,170L422,190L403,210L382,230L361,250L339,270L320,290L303,310L286,330L269,350L252,370L237,390L225,410L214,430L205,450L195,470L186,490L177,510L167,530L156,550L144,570L132,590L140,590L152,570L164,550L175,530L185,510L193,490L202,470L212,450L222,430L232,410L245,390L261,370L278,350L295,330L312,310L330,290L350,270L371,250L392,230L412,210L431,190L448,170L464,150L478,130L490,110L502,90L513,70L523,50L534,30L545,10L557,-10L570,-30ZM626,-30L613,-10L600,10L587,30L575,50L565,70L554,90L544,110L533,130L519,150L505,170L491,190L475,210L458,230L440,250L421,270L401,290L381,310L362,330L343,350L324,370L306,390L290,410L275,430L262,450L251,470L241,490L232,510L221,530L212,550L202,570L191,590L198,590L209,570L218,550L227,530L239,510L248,490L258,470L269,450L283,430L299,410L316,390L334,370L352,350L372,330L391,310L411,290L431,270L450,250L467,230L484,210L499,190L513,170L527,150L540,130L552,110L562,90L572,70L583,50L595,30L608,10L621,-10L634,-30ZM691,-30L678,-10L666,10L653,30L640,50L628,70L616,90L605,110L593,130L581,150L568,170L555,190L542,210L528,230L513,250L498,270L481,290L463,310L443,330L423,350L403,370L383,390L364,410L346,430L329,450L314,470L301,490L290,510L278,530L266,550L255,570L246,590L252,590L262,570L273,550L286,530L298,510L309,490L323,470L338,450L355,430L374,410L393,390L413,370L433,350L453,330L473,310L491,290L507,270L522,250L536,230L550,210L563,190L576,170L588,150L601,130L613,110L624,90L636,70L649,50L661,30L674,10L687,-10L699,-30ZM756,-30L743,-10L731,10L718,30L706,50L693,70L681,90L668,110L655,130L642,150L629,170L617,190L606,210L594,230L582,250L568,270L554,290L538,310L521,330L503,350L484,370L464,390L443,410L424,430L404,450L386,470L369,490L353,510L340,530L328,550L315,570L303,590L311,590L323,570L336,550L348,530L361,510L378,490L395,470L414,450L434,430L453,410L474,390L493,370L513,350L531,330L547,310L563,290L577,270L590,250L602,230L614,210L625,190L637,170L650,150L662,130L675,110L688,90L701,70L714,50L726,30L739,10L751,-10L764,-30ZM820,-30L807,-10L795,10L782,30L769,50L756,70L743,90L730,110L716,130L703,150L689,170L676,190L665,210L655,230L646,250L635,270L622,290L608,310L593,330L577,350L560,370L541,390L522,410L503,430L483,450L463,470L445,490L426,510L408,530L391,550L378,570L365,590L373,590L386,570L400,550L418,530L436,510L454,490L473,470L493,450L512,430L532,410L551,390L569,370L585,350L601,330L616,310L630,290L643,270L654,250L663,230L672,210L684,190L697,170L710,150L724,130L737,110L751,90L764,70L777,50L790,30L802,10L815,-10L828,-30ZM885,-30L872,-10L859,10L846,30L832,50L819,70L806,90L793,110L779,130L766,150L753,170L739,190L726,210L714,230L704,250L695,270L684,290L671,310L657,330L643,350L629,370L613,390L597,410L580,430L561,450L541,470L521,490L501,510L482,530L464,550L447,570L430,590L439,590L456,570L473,550L491,530L510,510L530,490L551,470L570,450L589,430L606,410L622,390L637,370L651,350L665,330L678,310L691,290L702,270L712,250L722,230L734,210L747,190L761,170L774,150L788,130L801,110L814,90L827,70L840,50L854,30L867,10L880,-10L893,-30ZM949,-30L936,-10L923,10L910,30L897,50L884,70L870,90L857,110L844,130L831,150L817,170L804,190L791,210L778,230L766,250L753,270L741,290L729,310L717,330L704,350L692,370L678,390L665,410L650,430L635,450L619,470L601,490L581,510L559,530L538,550L519,570L501,590L510,590L528,570L548,550L570,530L591,510L611,490L628,470L644,450L659,430L673,410L686,390L699,370L712,350L724,330L736,310L749,290L761,270L774,250L786,230L799,210L812,190L825,170L839,150L852,130L865,110L878,90L892,70L905,50L918,30L931,10L944,-10L958,-30ZM959,-30L959,-10L959,10L959,30L959,50L948,70L935,90L922,110L909,130L895,150L882,170L869,190L856,210L843,230L829,250L816,270L803,290L791,310L778,330L765,350L753,370L741,390L729,410L716,430L703,450L689,470L675,490L660,510L642,530L621,550L600,570L580,590L590,590L610,570L632,550L653,530L669,510L683,490L698,470L711,450L725,430L737,410L749,390L761,370L773,350L786,330L799,310L811,290L824,270L838,250L851,230L864,210L877,190L890,170L903,150L917,130L930,110L943,90L956,70L959,50L959,30L959,10L959,-10L959,-30ZM959,-30L959,-10L959,10L959,30L959,50L959,70L959,90L959,110L959,130L959,150L947,170L934,190L921,210L908,230L894,250L881,270L868,290L855,310L842,330L830,350L817,370L805,390L793,410L781,430L768,450L755,470L742,490L728,510L714,530L699,550L682,570L661,590L671,590L691,570L707,550L722,530L736,510L750,490L763,470L776,450L789,430L801,410L813,390L825,370L838,350L851,330L863,310L876,290L889,270L903,250L916,230L929,210L942,190L955,170L959,150L959,130L959,110L959,90L959,70L959,50L959,30L959,10L959,-10L959,-30ZM959,-30L959,-10L959,10L959,30L959,50L959,70L959,90L959,110L959,130L959,150L959,170L959,190L959,210L959,230L959,250L947,270L934,290L921,310L908,330L895,350L882,370L870,390L857,410L845,430L832,450L820,470L807,490L793,510L780,530L766,550L751,570L735,590L744,590L759,570L774,550L788,530L801,510L815,490L828,470L840,450L853,430L865,410L878,390L890,370L903,350L916,330L929,310L942,290L955,270L959,250L959,230L959,210L959,190L959,170L959,150L959,130L959,110L959,90L959,70L959,50L959,30L959,10L959,-10L959,-30Z"/><path fill="#fbfbfb" d="M25,-30L10,-10L-6,10L-21,30L-35,50L-49,70L-62,90L-75,110L-88,130L-100,150L-112,170L-125,190L-137,210L-149,230L-162,250L-174,270L-187,290L-199,310L-200,330L-200,350L-200,370L-200,390L-200,410L-200,430L-200,450L-200,470L-200,490L-200,510L-200,530L-200,550L-200,570L-200,590L-200,590L-200,570L-200,550L-200,530L-200,510L-200,490L-200,470L-200,450L-200,430L-200,410L-200,390L-200,370L-200,350L-200,330L-192,310L-179,290L-166,270L-154,250L-141,230L-129,210L-117,190L-105,170L-92,150L-80,130L-67,110L-54,90L-41,70L-27,50L-12,30L3,10L18,-10L34,-30ZM96,-30L80,-10L64,10L47,30L31,50L16,70L1,90L-13,110L-26,130L-38,150L-50,170L-62,190L-74,210L-86,230L-99,250L-111,270L-124,290L-137,310L-149,330L-162,350L-174,370L-187,390L-199,410L-200,430L-200,450L-200,470L-200,490L-200,510L-200,530L-200,550L-200,570L-200,590L-200,590L-200,570L-200,550L-200,530L-200,510L-200,490L-200,470L-200,450L-200,430L-191,410L-179,390L-167,370L-154,350L-142,330L-129,310L-116,290L-103,270L-91,250L-79,230L-67,210L-55,190L-43,170L-31,150L-18,130L-5,110L9,90L24,70L40,50L56,30L73,10L89,-10L105,-30ZM170,-30L154,-10L138,10L122,30L104,50L86,70L68,90L51,110L36,130L23,150L11,170L-1,190L-13,210L-24,230L-36,250L-49,270L-61,290L-74,310L-87,330L-100,350L-113,370L-125,390L-137,410L-150,430L-162,450L-173,470L-185,490L-197,510L-200,530L-200,550L-200,570L-200,590L-200,590L-200,570L-200,550L-200,530L-190,510L-178,490L-166,470L-154,450L-142,430L-130,410L-118,390L-105,370L-93,350L-80,330L-67,310L-54,290L-41,270L-29,250L-17,230L-5,210L7,190L18,170L30,150L44,130L59,110L77,90L95,70L114,50L131,30L148,10L164,-10L179,-30ZM242,-30L227,-10L213,10L198,30L183,50L167,70L149,90L128,110L105,130L86,150L72,170L60,190L48,210L37,230L24,250L12,270L-1,290L-14,310L-27,330L-40,350L-53,370L-65,390L-77,410L-89,430L-100,450L-112,470L-123,490L-135,510L-147,530L-158,550L-170,570L-182,590L-174,590L-162,570L-151,550L-139,530L-127,510L-116,490L-104,470L-93,450L-81,430L-70,410L-58,390L-46,370L-33,350L-20,330L-6,310L6,290L19,270L32,250L45,230L56,210L68,190L80,170L95,150L116,130L140,110L160,90L177,70L192,50L207,30L222,10L236,-10L250,-30ZM311,-30L297,-10L283,10L268,30L253,50L239,70L225,90L211,110L197,130L179,150L154,170L130,190L113,210L98,230L84,250L70,270L56,290L43,310L29,330L16,350L3,370L-8,390L-19,410L-29,430L-40,450L-51,470L-62,490L-73,510L-84,530L-95,550L-107,570L-119,590L-111,590L-99,570L-87,550L-76,530L-65,510L-54,490L-43,470L-32,450L-22,430L-11,410L-1,390L10,370L22,350L36,330L50,310L64,290L78,270L92,250L107,230L122,210L141,190L166,170L190,150L206,130L219,110L233,90L247,70L262,50L277,30L292,10L306,-10L320,-30ZM380,-30L367,-10L353,10L339,30L324,50L307,70L290,90L273,110L256,130L240,150L225,170L208,190L189,210L169,230L151,250L134,270L118,290L103,310L89,330L75,350L62,370L51,390L41,410L31,430L21,450L11,470L1,490L-10,510L-20,530L-32,550L-43,570L-55,590L-47,590L-35,570L-24,550L-12,530L-2,510L9,490L19,470L29,450L39,430L48,410L59,390L70,370L83,350L97,330L111,310L126,290L142,270L159,250L178,230L197,210L215,190L231,170L247,150L263,130L281,110L299,90L317,70L333,50L348,30L362,10L375,-10L388,-30ZM445,-30L433,-10L421,10L409,30L396,50L382,70L367,90L350,110L332,130L312,150L291,170L270,190L251,210L235,230L219,250L202,270L186,290L170,310L154,330L141,350L128,370L117,390L106,410L96,430L86,450L76,470L66,490L56,510L45,530L34,550L22,570L10,590L18,590L30,570L42,550L53,530L64,510L74,490L84,470L94,450L104,430L114,410L125,390L136,370L149,350L163,330L178,310L194,290L211,270L227,250L243,230L260,210L280,190L303,170L322,150L342,130L360,110L376,90L391,70L404,50L417,30L429,10L441,-10L453,-30ZM508,-30L496,-10L485,10L473,30L462,50L450,70L438,90L425,110L410,130L394,150L376,170L355,190L333,210L310,230L289,250L271,270L256,290L240,310L223,330L207,350L193,370L181,390L171,410L162,430L152,450L143,470L133,490L122,510L111,530L100,550L88,570L76,590L84,590L96,570L108,550L120,530L131,510L141,490L151,470L160,450L170,430L179,410L189,390L201,370L215,350L232,330L249,310L265,290L280,270L298,250L320,230L344,210L365,190L386,170L403,150L419,130L433,110L446,90L458,70L470,50L481,30L492,10L504,-10L516,-30ZM570,-30L557,-10L545,10L534,30L523,50L513,70L502,90L490,110L478,130L464,150L448,170L431,190L412,210L392,230L371,250L350,270L330,290L312,310L295,330L278,350L261,370L245,390L232,410L222,430L212,450L202,470L193,490L185,510L175,530L164,550L152,570L140,590L148,590L160,570L171,550L182,530L192,510L200,490L209,470L219,450L229,430L240,410L254,390L270,370L287,350L304,330L322,310L340,290L360,270L381,250L402,230L422,210L440,190L457,170L472,150L486,130L498,110L509,90L520,70L531,50L542,30L553,10L565,-10L578,-30ZM634,-30L621,-10L608,10L595,30L583,50L572,70L562,90L552,110L540,130L527,150L513,170L499,190L484,210L467,230L450,250L431,270L411,290L391,310L372,330L352,350L334,370L316,390L299,410L283,430L269,450L258,470L248,490L239,510L227,530L218,550L209,570L198,590L205,590L215,570L224,550L234,530L246,510L255,490L265,470L277,450L291,430L307,410L325,390L343,370L362,350L382,330L402,310L422,290L441,270L459,250L476,230L492,210L507,190L521,170L535,150L548,130L559,110L569,90L579,70L590,50L603,30L616,10L629,-10L642,-30ZM699,-30L687,-10L674,10L661,30L649,50L636,70L624,90L613,110L601,130L588,150L576,170L563,190L550,210L536,230L522,250L507,270L491,290L473,310L453,330L433,350L413,370L393,390L374,410L355,430L338,450L323,470L309,490L298,510L286,530L273,550L262,570L252,590L259,590L269,570L281,550L294,530L306,510L318,490L332,470L348,450L365,430L384,410L403,390L423,370L443,350L463,330L482,310L500,290L516,270L531,250L545,230L558,210L571,190L584,170L596,150L609,130L621,110L632,90L645,70L657,50L670,30L682,10L695,-10L707,-30ZM764,-30L751,-10L739,10L726,30L714,50L701,70L688,90L675,110L662,130L650,150L637,170L625,190L614,210L602,230L590,250L577,270L563,290L547,310L531,330L513,350L493,370L474,390L453,410L434,430L414,450L395,470L378,490L361,510L348,530L336,550L323,570L311,590L318,590L331,570L343,550L356,530L370,510L387,490L405,470L424,450L444,430L463,410L483,390L503,370L522,350L540,330L556,310L571,290L585,270L598,250L610,230L621,210L632,190L645,170L657,150L670,130L683,110L696,90L709,70L721,50L734,30L747,10L759,-10L772,-30ZM828,-30L815,-10L802,10L790,30L777,50L764,70L751,90L737,110L724,130L710,150L697,170L684,190L672,210L663,230L654,250L643,270L630,290L616,310L601,330L585,350L569,370L551,390L532,410L512,430L493,450L473,470L454,490L436,510L418,530L400,550L386,570L373,590L381,590L394,570L409,550L428,530L446,510L464,490L483,470L502,450L522,430L542,410L560,390L577,370L594,350L610,330L624,310L639,290L651,270L661,250L670,230L679,210L691,190L705,170L718,150L732,130L745,110L759,90L772,70L785,50L798,30L810,10L823,-10L836,-30ZM893,-30L880,-10L867,10L854,30L840,50L827,70L814,90L801,110L788,130L774,150L761,170L747,190L734,210L722,230L712,250L702,270L691,290L678,310L665,330L651,350L637,370L622,390L606,410L589,430L570,450L551,470L530,490L510,510L491,530L473,550L456,570L439,590L448,590L464,570L481,550L500,530L520,510L540,490L561,470L580,450L598,430L615,410L630,390L645,370L659,350L673,330L686,310L698,290L709,270L719,250L730,230L743,210L756,190L769,170L782,150L796,130L809,110L822,90L835,70L848,50L862,30L875,10L888,-10L901,-30ZM958,-30L944,-10L931,10L918,30L905,50L892,70L878,90L865,110L852,130L839,150L825,170L812,190L799,210L786,230L774,250L761,270L749,290L736,310L724,330L712,350L699,370L686,390L673,410L659,430L644,450L628,470L611,490L591,510L570,530L548,550L528,570L510,590L520,590L538,570L558,550L580,530L602,510L621,490L638,470L653,450L667,430L681,410L694,390L707,370L719,350L731,330L744,310L756,290L769,270L782,250L794,230L807,210L820,190L833,170L847,150L860,130L873,110L887,90L900,70L913,50L926,30L939,10L952,-10L959,-30ZM959,-30L959,-10L959,10L959,30L959,50L956,70L943,90L930,110L917,130L903,150L890,170L877,190L864,210L851,230L838,250L824,270L811,290L799,310L786,330L773,350L761,370L749,390L737,410L725,430L711,450L698,470L683,490L669,510L653,530L632,550L610,570L590,590L600,590L621,570L642,550L662,530L677,510L692,490L706,470L720,450L733,430L745,410L757,390L769,370L781,350L794,330L807,310L820,290L833,270L846,250L859,230L872,210L885,190L898,170L912,150L925,130L938,110L951,90L959,70L959,50L959,30L959,10L959,-10L959,-30ZM959,-30L959,-10L959,10L959,30L959,50L959,70L959,90L959,110L959,130L959,150L955,170L942,190L929,210L916,230L903,250L889,270L876,290L863,310L851,330L838,350L825,370L813,390L801,410L789,430L776,450L763,470L750,490L736,510L722,530L707,550L691,570L671,590L681,590L700,570L716,550L730,530L745,510L758,490L771,470L784,450L797,430L809,410L821,390L833,370L846,350L859,330L872,310L885,290L898,270L911,250L924,230L937,210L950,190L959,170L959,150L959,130L959,110L959,90L959,70L959,50L959,30L959,10L959,-10L959,-30ZM959,-30L959,-10L959,10L959,30L959,50L959,70L959,90L959,110L959,130L959,150L959,170L959,190L959,210L959,230L959,250L955,270L942,290L929,310L916,330L903,350L890,370L878,390L865,410L853,430L840,450L828,470L815,490L801,510L788,530L774,550L759,570L744,590L752,590L768,570L782,550L796,530L810,510L823,490L836,470L848,450L861,430L873,410L886,390L898,370L911,350L924,330L937,310L950,290L959,270L959,250L959,230L959,210L959,190L959,170L959,150L959,130L959,110L959,90L959,70L959,50L959,30L959,10L959,-10L959,-30Z"/><path fill="#fdfdfd" d="M34,-30L18,-10L3,10L-12,30L-27,50L-41,70L-54,90L-67,110L-80,130L-92,150L-105,170L-117,190L-129,210L-141,230L-154,250L-166,270L-179,290L-192,310L-200,330L-200,350L-200,370L-200,390L-200,410L-200,430L-200,450L-200,470L-200,490L-200,510L-200,530L-200,550L-200,570L-200,590L-200,590L-200,570L-200,550L-200,530L-200,510L-200,490L-200,470L-200,450L-200,430L-200,410L-200,390L-200,370L-200,350L-196,330L-184,310L-171,290L-158,270L-146,250L-134,230L-121,210L-109,190L-97,170L-85,150L-72,130L-60,110L-47,90L-33,70L-19,50L-4,30L11,10L27,-10L42,-30ZM105,-30L89,-10L73,10L56,30L40,50L24,70L9,90L-5,110L-18,130L-31,150L-43,170L-55,190L-67,210L-79,230L-91,250L-103,270L-116,290L-129,310L-142,330L-154,350L-167,370L-179,390L-191,410L-200,430L-200,450L-200,470L-200,490L-200,510L-200,530L-200,550L-200,570L-200,590L-200,590L-200,570L-200,550L-200,530L-200,510L-200,490L-200,470L-200,450L-196,430L-184,410L-171,390L-159,370L-146,350L-134,330L-121,310L-108,290L-96,270L-83,250L-71,230L-59,210L-47,190L-35,170L-23,150L-11,130L3,110L17,90L32,70L48,50L65,30L82,10L98,-10L115,-30ZM179,-30L164,-10L148,10L131,30L114,50L95,70L77,90L59,110L44,130L30,150L18,170L7,190L-5,210L-17,230L-29,250L-41,270L-54,290L-67,310L-80,330L-93,350L-105,370L-118,390L-130,410L-142,430L-154,450L-166,470L-178,490L-190,510L-200,530L-200,550L-200,570L-200,590L-200,590L-200,570L-200,550L-194,530L-182,510L-170,490L-158,470L-146,450L-134,430L-122,410L-110,390L-98,370L-85,350L-72,330L-59,310L-46,290L-33,270L-21,250L-9,230L3,210L14,190L26,170L38,150L52,130L68,110L86,90L105,70L124,50L141,30L157,10L173,-10L188,-30ZM250,-30L236,-10L222,10L207,30L192,50L177,70L160,90L140,110L116,130L95,150L80,170L68,190L56,210L45,230L32,250L19,270L6,290L-6,310L-20,330L-33,350L-46,370L-58,390L-70,410L-81,430L-93,450L-104,470L-116,490L-127,510L-139,530L-151,550L-162,570L-174,590L-167,590L-155,570L-143,550L-131,530L-119,510L-108,490L-96,470L-85,450L-74,430L-62,410L-51,390L-39,370L-26,350L-12,330L1,310L14,290L26,270L39,250L52,230L64,210L75,190L88,170L105,150L128,130L151,110L170,90L186,70L201,50L216,30L231,10L245,-10L259,-30ZM320,-30L306,-10L292,10L277,30L262,50L247,70L233,90L219,110L206,130L190,150L166,170L141,190L122,210L107,230L92,250L78,270L64,290L50,310L36,330L22,350L10,370L-1,390L-11,410L-22,430L-32,450L-43,470L-54,490L-65,510L-76,530L-87,550L-99,570L-111,590L-103,590L-91,570L-79,550L-68,530L-57,510L-46,490L-35,470L-25,450L-15,430L-4,410L6,390L17,370L29,350L43,330L57,310L71,290L85,270L100,250L115,230L132,210L153,190L177,170L199,150L214,130L227,110L240,90L255,70L270,50L286,30L300,10L315,-10L329,-30ZM388,-30L375,-10L362,10L348,30L333,50L317,70L299,90L281,110L263,130L247,150L231,170L215,190L197,210L178,230L159,250L142,270L126,290L111,310L97,330L83,350L70,370L59,390L48,410L39,430L29,450L19,470L9,490L-2,510L-12,530L-24,550L-35,570L-47,590L-39,590L-27,570L-15,550L-4,530L6,510L17,490L27,470L37,450L46,430L56,410L67,390L79,370L91,350L105,330L119,310L135,290L151,270L168,250L186,230L205,210L222,190L238,170L255,150L271,130L290,110L309,90L326,70L342,50L357,30L370,10L384,-10L396,-30ZM453,-30L441,-10L429,10L417,30L404,50L391,70L376,90L360,110L342,130L322,150L303,170L280,190L260,210L243,230L227,250L211,270L194,290L178,310L163,330L149,350L136,370L125,390L114,410L104,430L94,450L84,470L74,490L64,510L53,530L42,550L30,570L18,590L27,590L39,570L50,550L61,530L72,510L83,490L93,470L103,450L113,430L123,410L133,390L145,370L157,350L171,330L187,310L203,290L219,270L235,250L251,230L269,210L291,190L314,170L333,150L353,130L370,110L386,90L400,70L413,50L425,30L437,10L449,-10L461,-30ZM516,-30L504,-10L492,10L481,30L470,50L458,70L446,90L433,110L419,130L403,150L386,170L365,190L344,210L320,230L298,250L280,270L265,290L249,310L232,330L215,350L201,370L189,390L179,410L170,430L160,450L151,470L141,490L131,510L120,530L108,550L96,570L84,590L92,590L104,570L116,550L128,530L139,510L149,490L159,470L168,450L178,430L187,410L196,390L209,370L224,350L241,330L258,310L274,290L289,270L308,250L331,230L354,210L375,190L395,170L412,150L428,130L441,110L454,90L466,70L478,50L489,30L500,10L512,-10L523,-30ZM578,-30L565,-10L553,10L542,30L531,50L520,70L509,90L498,110L486,130L472,150L457,170L440,190L422,210L402,230L381,250L360,270L340,290L322,310L304,330L287,350L270,370L254,390L240,410L229,430L219,450L209,470L200,490L192,510L182,530L171,550L160,570L148,590L155,590L167,570L178,550L189,530L199,510L207,490L216,470L226,450L236,430L248,410L262,390L278,370L296,350L313,330L331,310L350,290L370,270L391,250L412,230L431,210L449,190L465,170L480,150L494,130L506,110L517,90L528,70L538,50L549,30L561,10L573,-10L585,-30ZM642,-30L629,-10L616,10L603,30L590,50L579,70L569,90L559,110L548,130L535,150L521,170L507,190L492,210L476,230L459,250L441,270L422,290L402,310L382,330L362,350L343,370L325,390L307,410L291,430L277,450L265,470L255,490L246,510L234,530L224,550L215,570L205,590L212,590L222,570L230,550L241,530L253,510L263,490L272,470L285,450L300,430L317,410L334,390L353,370L372,350L392,330L412,310L432,290L451,270L469,250L485,230L501,210L515,190L529,170L543,150L556,130L567,110L577,90L587,70L598,50L611,30L624,10L637,-10L650,-30ZM707,-30L695,-10L682,10L670,30L657,50L645,70L632,90L621,110L609,130L596,150L584,170L571,190L558,210L545,230L531,250L516,270L500,290L482,310L463,330L443,350L423,370L403,390L384,410L365,430L348,450L332,470L318,490L306,510L294,530L281,550L269,570L259,590L266,590L277,570L289,550L302,530L314,510L326,490L341,470L357,450L375,430L393,410L413,390L433,370L453,350L473,330L492,310L509,290L525,270L539,250L553,230L566,210L579,190L591,170L603,150L617,130L629,110L641,90L653,70L666,50L678,30L690,10L703,-10L716,-30ZM772,-30L759,-10L747,10L734,30L721,50L709,70L696,90L683,110L670,130L657,150L645,170L632,190L621,210L610,230L598,250L585,270L571,290L556,310L540,330L522,350L503,370L483,390L463,410L444,430L424,450L405,470L387,490L370,510L356,530L343,550L331,570L318,590L326,590L339,570L351,550L363,530L378,510L396,490L415,470L434,450L453,430L473,410L493,390L513,370L531,350L549,330L565,310L580,290L594,270L607,250L618,230L629,210L640,190L652,170L665,150L678,130L691,110L704,90L717,70L729,50L742,30L755,10L767,-10L780,-30ZM836,-30L823,-10L810,10L798,30L785,50L772,70L759,90L745,110L732,130L718,150L705,170L691,190L679,210L670,230L661,250L651,270L639,290L624,310L610,330L594,350L577,370L560,390L542,410L522,430L502,450L483,470L464,490L446,510L428,530L409,550L394,570L381,590L388,590L402,570L419,550L438,530L455,510L473,490L492,470L512,450L532,430L551,410L569,390L586,370L602,350L618,330L633,310L647,290L659,270L669,250L677,230L686,210L699,190L712,170L726,150L740,130L753,110L766,90L780,70L793,50L806,30L819,10L831,-10L844,-30ZM901,-30L888,-10L875,10L862,30L848,50L835,70L822,90L809,110L796,130L782,150L769,170L756,190L743,210L730,230L719,250L709,270L698,290L686,310L673,330L659,350L645,370L630,390L615,410L598,430L580,450L561,470L540,490L520,510L500,530L481,550L464,570L448,590L456,590L473,570L490,550L509,530L529,510L550,490L571,470L590,450L607,430L623,410L638,390L653,370L667,350L680,330L693,310L705,290L716,270L727,250L739,230L751,210L764,190L777,170L790,150L804,130L817,110L830,90L843,70L857,50L870,30L883,10L896,-10L909,-30ZM959,-30L952,-10L939,10L926,30L913,50L900,70L887,90L873,110L860,130L847,150L833,170L820,190L807,210L794,230L782,250L769,270L756,290L744,310L731,330L719,350L707,370L694,390L681,410L667,430L653,450L638,470L621,490L602,510L580,530L558,550L538,570L520,590L529,590L548,570L569,550L591,530L612,510L630,490L647,470L661,450L675,430L689,410L702,390L715,370L727,350L739,330L751,310L764,290L777,270L790,250L802,230L815,210L828,190L842,170L855,150L868,130L881,110L895,90L908,70L921,50L934,30L947,10L959,-10L959,-30ZM959,-30L959,-10L959,10L959,30L959,50L959,70L951,90L938,110L925,130L912,150L898,170L885,190L872,210L859,230L846,250L833,270L820,290L807,310L794,330L781,350L769,370L757,390L745,410L733,430L720,450L706,470L692,490L677,510L662,530L642,550L621,570L600,590L610,590L631,570L653,550L672,530L686,510L700,490L714,470L728,450L741,430L753,410L765,390L777,370L789,350L802,330L815,310L828,290L841,270L854,250L867,230L880,210L893,190L906,170L920,150L933,130L946,110L959,90L959,70L959,50L959,30L959,10L959,-10L959,-30ZM959,-30L959,-10L959,10L959,30L959,50L959,70L959,90L959,110L959,130L959,150L959,170L950,190L937,210L924,230L911,250L898,270L885,290L872,310L859,330L846,350L833,370L821,390L809,410L797,430L784,450L771,470L758,490L745,510L730,530L716,550L700,570L681,590L691,590L708,570L724,550L739,530L753,510L766,490L779,470L792,450L805,430L817,410L829,390L841,370L854,350L867,330L880,310L893,290L906,270L919,250L932,230L945,210L958,190L959,170L959,150L959,130L959,110L959,90L959,70L959,50L959,30L959,10L959,-10L959,-30ZM959,-30L959,-10L959,10L959,30L959,50L959,70L959,90L959,110L959,130L959,150L959,170L959,190L959,210L959,230L959,250L959,270L950,290L937,310L924,330L911,350L898,370L886,390L873,410L861,430L848,450L836,470L823,490L810,510L796,530L782,550L768,570L752,590L761,590L776,570L790,550L804,530L818,510L831,490L844,470L856,450L869,430L881,410L894,390L907,370L919,350L932,330L945,310L958,290L959,270L959,250L959,230L959,210L959,190L959,170L959,150L959,130L959,110L959,90L959,70L959,50L959,30L959,10L959,-10L959,-30Z"/><path fill="#fdfdfd" d="M-26,-30L-41,-10L-55,10L-69,30L-83,50L-96,70L-109,90L-122,110L-135,130L-147,150L-159,170L-172,190L-184,210L-197,230L-200,250L-200,270L-200,290L-200,310L-200,330L-200,350L-200,370L-200,390L-200,410L-200,430L-200,450L-200,470L-200,490L-200,510L-200,530L-200,550L-200,570L-200,590L-200,590L-200,570L-200,550L-200,530L-200,510L-200,490L-200,470L-200,450L-200,430L-200,410L-200,390L-200,370L-200,350L-200,330L-200,310L-200,290L-200,270L-200,250L-189,230L-176,210L-164,190L-152,170L-139,150L-127,130L-114,110L-101,90L-88,70L-75,50L-61,30L-47,10L-33,-10L-18,-30ZM42,-30L27,-10L11,10L-4,30L-19,50L-33,70L-47,90L-60,110L-72,130L-85,150L-97,170L-109,190L-121,210L-134,230L-146,250L-158,270L-171,290L-184,310L-196,330L-200,350L-200,370L-200,390L-200,410L-200,430L-200,450L-200,470L-200,490L-200,510L-200,530L-200,550L-200,570L-200,590L-200,590L-200,570L-200,550L-200,530L-200,510L-200,490L-200,470L-200,450L-200,430L-200,410L-200,390L-200,370L-200,350L-188,330L-176,310L-163,290L-151,270L-138,250L-126,230L-113,210L-101,190L-89,170L-77,150L-65,130L-52,110L-39,90L-25,70L-11,50L4,30L20,10L35,-10L51,-30ZM115,-30L98,-10L82,10L65,30L48,50L32,70L17,90L3,110L-11,130L-23,150L-35,170L-47,190L-59,210L-71,230L-83,250L-96,270L-108,290L-121,310L-134,330L-146,350L-159,370L-171,390L-184,410L-196,430L-200,450L-200,470L-200,490L-200,510L-200,530L-200,550L-200,570L-200,590L-200,590L-200,570L-200,550L-200,530L-200,510L-200,490L-200,470L-200,450L-188,430L-176,410L-164,390L-151,370L-139,350L-126,330L-113,310L-100,290L-88,270L-75,250L-63,230L-51,210L-39,190L-27,170L-15,150L-3,130L11,110L25,90L41,70L57,50L74,30L91,10L108,-10L124,-30ZM188,-30L173,-10L157,10L141,30L124,50L105,70L86,90L68,110L52,130L38,150L26,170L14,190L3,210L-9,230L-21,250L-33,270L-46,290L-59,310L-72,330L-85,350L-98,370L-110,390L-122,410L-134,430L-146,450L-158,470L-170,490L-182,510L-194,530L-200,550L-200,570L-200,590L-200,590L-200,570L-198,550L-186,530L-174,510L-162,490L-150,470L-138,450L-127,430L-115,410L-103,390L-90,370L-77,350L-64,330L-51,310L-38,290L-26,270L-13,250L-1,230L10,210L22,190L33,170L46,150L60,130L77,110L96,90L115,70L134,50L151,30L167,10L182,-10L197,-30ZM259,-30L245,-10L231,10L216,30L201,50L186,70L170,90L151,110L128,130L105,150L88,170L75,190L64,210L52,230L39,250L26,270L14,290L1,310L-12,330L-26,350L-39,370L-51,390L-62,410L-74,430L-85,450L-96,470L-108,490L-119,510L-131,530L-143,550L-155,570L-167,590L-159,590L-147,570L-135,550L-123,530L-112,510L-100,490L-89,470L-78,450L-66,430L-55,410L-43,390L-31,370L-19,350L-5,330L8,310L21,290L34,270L47,250L60,230L71,210L83,190L97,170L116,150L141,130L163,110L181,90L196,70L210,50L225,30L239,10L254,-10L268,-30ZM329,-30L315,-10L300,10L286,30L270,50L255,70L240,90L227,110L214,130L199,150L177,170L153,190L132,210L115,230L100,250L85,270L71,290L57,310L43,330L29,350L17,370L6,390L-4,410L-15,430L-25,450L-35,470L-46,490L-57,510L-68,530L-79,550L-91,570L-103,590L-95,590L-83,570L-72,550L-60,530L-49,510L-38,490L-28,470L-17,450L-7,430L3,410L13,390L24,370L37,350L51,330L64,310L78,290L93,270L108,250L124,230L142,210L163,190L188,170L207,150L221,130L234,110L248,90L264,70L279,50L294,30L309,10L323,-10L337,-30ZM396,-30L384,-10L370,10L357,30L342,50L326,70L309,90L290,110L271,130L255,150L238,170L222,190L205,210L186,230L168,250L151,270L135,290L119,310L105,330L91,350L79,370L67,390L56,410L46,430L37,450L27,470L17,490L6,510L-4,530L-15,550L-27,570L-39,590L-30,590L-19,570L-7,550L4,530L14,510L25,490L35,470L45,450L54,430L64,410L75,390L87,370L100,350L113,330L128,310L143,290L159,270L177,250L195,230L212,210L229,190L245,170L262,150L280,130L300,110L318,90L335,70L351,50L365,30L379,10L392,-10L405,-30ZM461,-30L449,-10L437,10L425,30L413,50L400,70L386,90L370,110L353,130L333,150L314,170L291,190L269,210L251,230L235,250L219,270L203,290L187,310L171,330L157,350L145,370L133,390L123,410L113,430L103,450L93,470L83,490L72,510L61,530L50,550L39,570L27,590L35,590L47,570L58,550L70,530L81,510L91,490L101,470L111,450L121,430L131,410L141,390L153,370L165,350L180,330L195,310L212,290L228,270L244,250L260,230L279,210L303,190L325,170L344,150L363,130L380,110L395,90L408,70L421,50L433,30L445,10L457,-10L469,-30ZM523,-30L512,-10L500,10L489,30L478,50L466,70L454,90L441,110L428,130L412,150L395,170L375,190L354,210L331,230L308,250L289,270L274,290L258,310L241,330L224,350L209,370L196,390L187,410L178,430L168,450L159,470L149,490L139,510L128,530L116,550L104,570L92,590L100,590L113,570L124,550L136,530L147,510L157,490L166,470L176,450L185,430L194,410L204,390L217,370L233,350L250,330L268,310L283,290L299,270L319,250L341,230L364,210L385,190L405,170L421,150L436,130L450,110L462,90L474,70L485,50L496,30L508,10L519,-10L531,-30ZM585,-30L573,-10L561,10L549,30L538,50L528,70L517,90L506,110L494,130L480,150L465,170L449,190L431,210L412,230L391,250L370,270L350,290L331,310L313,330L296,350L278,370L262,390L248,410L236,430L226,450L216,470L207,490L199,510L189,530L178,550L167,570L155,590L163,590L174,570L185,550L196,530L205,510L214,490L223,470L233,450L244,430L256,410L271,390L287,370L305,350L323,330L341,310L360,290L381,270L401,250L421,230L440,210L457,190L473,170L488,150L501,130L514,110L525,90L535,70L546,50L557,30L568,10L581,-10L593,-30ZM650,-30L637,-10L624,10L611,30L598,50L587,70L577,90L567,110L556,130L543,150L529,170L515,190L501,210L485,230L469,250L451,270L432,290L412,310L392,330L372,350L353,370L334,390L317,410L300,430L285,450L272,470L263,490L253,510L241,530L230,550L222,570L212,590L219,590L228,570L236,550L248,530L260,510L270,490L280,470L293,450L309,430L326,410L344,390L363,370L382,350L402,330L422,310L442,290L460,270L478,250L494,230L509,210L523,190L537,170L551,150L563,130L574,110L584,90L595,70L606,50L619,30L632,10L645,-10L658,-30ZM716,-30L703,-10L690,10L678,30L666,50L653,70L641,90L629,110L617,130L603,150L591,170L579,190L566,210L553,230L539,250L525,270L509,290L492,310L473,330L453,350L433,370L413,390L393,410L375,430L357,450L341,470L326,490L314,510L302,530L289,550L277,570L266,590L273,590L284,570L297,550L309,530L322,510L335,490L350,470L366,450L384,430L403,410L423,390L443,370L463,350L483,330L502,310L519,290L534,270L548,250L561,230L574,210L587,190L599,170L611,150L624,130L636,110L649,90L662,70L674,50L686,30L698,10L711,-10L724,-30ZM780,-30L767,-10L755,10L742,30L729,50L717,70L704,90L691,110L678,130L665,150L652,170L640,190L629,210L618,230L607,250L594,270L580,290L565,310L549,330L531,350L513,370L493,390L473,410L453,430L434,450L415,470L396,490L378,510L363,530L351,550L339,570L326,590L334,590L346,570L359,550L371,530L387,510L406,490L424,470L444,450L463,430L483,410L503,390L522,370L541,350L558,330L574,310L588,290L602,270L615,250L626,230L636,210L647,190L659,170L672,150L685,130L698,110L712,90L724,70L737,50L750,30L763,10L775,-10L788,-30ZM844,-30L831,-10L819,10L806,30L793,50L780,70L766,90L753,110L740,130L726,150L712,170L699,190L686,210L677,230L669,250L659,270L647,290L633,310L618,330L602,350L586,370L569,390L551,410L532,430L512,450L492,470L473,490L455,510L438,530L419,550L402,570L388,590L397,590L411,570L428,550L447,530L464,510L483,490L502,470L522,450L542,430L560,410L578,390L595,370L611,350L626,330L641,310L655,290L667,270L676,250L684,230L694,210L707,190L720,170L734,150L748,130L761,110L774,90L787,70L801,50L814,30L827,10L839,-10L852,-30ZM909,-30L896,-10L883,10L870,30L857,50L843,70L830,90L817,110L804,130L790,150L777,170L764,190L751,210L739,230L727,250L716,270L705,290L693,310L680,330L667,350L653,370L638,390L623,410L607,430L590,450L571,470L550,490L529,510L509,530L490,550L473,570L456,590L465,590L482,570L499,550L519,530L539,510L560,490L581,470L599,450L616,430L632,410L647,390L661,370L674,350L687,330L700,310L712,290L723,270L735,250L747,230L759,210L772,190L785,170L798,150L812,130L825,110L838,90L851,70L865,50L878,30L891,10L904,-10L917,-30ZM959,-30L959,-10L947,10L934,30L921,50L908,70L895,90L881,110L868,130L855,150L842,170L828,190L815,210L802,230L790,250L777,270L764,290L751,310L739,330L727,350L715,370L702,390L689,410L675,430L661,450L647,470L630,490L612,510L591,530L569,550L548,570L529,590L539,590L558,570L579,550L602,530L622,510L640,490L655,470L670,450L684,430L697,410L710,390L722,370L734,350L746,330L759,310L772,290L785,270L797,250L810,230L823,210L836,190L850,170L863,150L876,130L889,110L903,90L916,70L929,50L942,30L955,10L959,-10L959,-30ZM959,-30L959,-10L959,10L959,30L959,50L959,70L959,90L946,110L933,130L920,150L906,170L893,190L880,210L867,230L854,250L841,270L828,290L815,310L802,330L789,350L777,370L765,390L753,410L741,430L728,450L714,470L700,490L686,510L672,530L653,550L631,570L610,590L621,590L641,570L663,550L680,530L694,510L709,490L723,470L736,450L749,430L761,410L773,390L785,370L797,350L810,330L823,310L836,290L849,270L862,250L875,230L888,210L901,190L915,170L928,150L941,130L954,110L959,90L959,70L959,50L959,30L959,10L959,-10L959,-30ZM959,-30L959,-10L959,10L959,30L959,50L959,70L959,90L959,110L959,130L959,150L959,170L958,190L945,210L932,230L919,250L906,270L893,290L880,310L867,330L854,350L841,370L829,390L817,410L805,430L792,450L779,470L766,490L753,510L739,530L724,550L708,570L691,590L700,590L717,570L733,550L747,530L761,510L774,490L788,470L800,450L813,430L825,410L837,390L850,370L862,350L875,330L888,310L901,290L914,270L927,250L940,230L953,210L959,190L959,170L959,150L959,130L959,110L959,90L959,70L959,50L959,30L959,10L959,-10L959,-30ZM959,-30L959,-10L959,10L959,30L959,50L959,70L959,90L959,110L959,130L959,150L959,170L959,190L959,210L959,230L959,250L959,270L958,290L945,310L932,330L919,350L907,370L894,390L881,410L869,430L856,450L844,470L831,490L818,510L804,530L790,550L776,570L761,590L769,590L784,570L798,550L812,530L826,510L839,490L852,470L864,450L877,430L889,410L902,390L915,370L927,350L940,330L953,310L959,290L959,270L959,250L959,230L959,210L959,190L959,170L959,150L959,130L959,110L959,90L959,70L959,50L959,30L959,10L959,-10L959,-30Z"/></g>
</svg>

<div style="position:absolute;left:3px;top:9px;width:392px;height:41px;background:rgba(255,255,255,0.7);filter:blur(2px);"></div>
<div id="title">有限空间作业安全要点之流程</div>
<svg style="position:absolute;left:0;top:0" width="752" height="562" viewBox="0 0 752 562">
  <!-- chevrons -->
  <polygon points="411.5,19 419,19 427.5,32 419,45 411.5,45 420,32" fill="#f6b9c0"/>
  <polygon points="423.5,19 431,19 439.5,32 431,45 423.5,45 432,32" fill="#f07c88"/>
  <polygon points="435.5,19 443,19 451.5,32 443,45 435.5,45 444,32" fill="#e8343e"/>
  <!-- red line -->
  <path d="M0,54.6 L752,52.4" stroke="#f7dfe3" stroke-width="4.5" fill="none"/>
  <path d="M0,54.6 L752,52.4" stroke="#9c5864" stroke-width="1.4" fill="none"/>
  <rect x="539" y="45" width="66" height="7.2" fill="#c00008"/>
  <rect x="613" y="45" width="66" height="7.2" fill="#c00008"/>
  <rect x="687" y="45" width="65" height="7.2" fill="#c00008"/>
  <rect x="750" y="0" width="2" height="562" fill="#111"/>
</svg>

<div id="h1">1.<b>有限空间辨识</b></div>
<div id="h2">有害因素辨识程序</div>

<svg style="position:absolute;left:0;top:0" width="752" height="562" viewBox="0 0 752 562">
  <defs>
    <marker id="ah" viewBox="0 0 10 10" refX="10" refY="5" markerWidth="6" markerHeight="5.8" markerUnits="userSpaceOnUse" orient="auto" preserveAspectRatio="none">
      <path d="M0,0 L10,5 L0,10 z" fill="#111"/>
    </marker>
  </defs>
  <g fill="#fff" stroke="#111" stroke-width="1.1">
    <rect x="39.5" y="180.5" width="99.0" height="37.0"/>
    <rect x="191.5" y="180.5" width="56.0" height="37.0"/>
    <rect x="289.5" y="180.5" width="83.0" height="49.0"/>
    <rect x="429.5" y="180.5" width="91.0" height="37.0"/>
    <rect x="568.5" y="181.5" width="135.0" height="37.0"/>
    <rect x="81.5" y="255.5" width="97.0" height="37.0"/>
    <rect x="75.5" y="304.5" width="103.0" height="37.0"/>
    <rect x="27.5" y="358.5" width="151.0" height="41.0"/>
    <rect x="81.5" y="427.5" width="97.0" height="37.0"/>
    <rect x="27.5" y="485.5" width="150.0" height="51.0"/>
    <rect x="356.5" y="279.5" width="110.0" height="37.0"/>
    <rect x="356.5" y="338.5" width="110.0" height="37.0"/>
    <rect x="356.5" y="404.5" width="110.0" height="37.0"/>
    <rect x="540.5" y="255.5" width="83.0" height="32.0"/>
    <rect x="527.5" y="304.5" width="96.0" height="37.0"/>
    <rect x="540.5" y="354.5" width="83.0" height="33.0"/>
    <rect x="527.5" y="403.5" width="96.0" height="37.0"/>
  </g>
  <g stroke="#1c1c1c" stroke-width="1.5" fill="none" marker-end="url(#ah)">
    <line x1="137" y1="193.8" x2="191" y2="193.8"/>
    <line x1="248" y1="193.8" x2="289" y2="193.8"/>
    <line x1="374.5" y1="193.8" x2="429" y2="193.8"/>
    <line x1="526" y1="193.8" x2="568" y2="193.8"/>
  </g>
  <g stroke="#111" stroke-width="1.1" fill="none">
    <path d="M234.5,218 V515"/>
    <path d="M178.5,267.5 H234.5 M178.5,323.5 L200,323.5 L215,322.5 L234.5,322.5 M178.5,378.5 H234.5 M178.5,447.3 L234.5,446.5 M177.5,514.5 H234.5"/>
    <path d="M331.5,230 V419 M331.5,299.5 H356.5 M331.5,358.5 H356.5 M331.5,418.5 H356.5"/>
    <path d="M497.3,218 V419 M466.5,299.5 H497.3 M466.5,352.5 H497.3 M466.5,418.5 H497.3"/>
    <path d="M665.5,219 V417 M623.5,267.5 H665.5 M623.5,317.5 H665.5 M623.5,366.5 H665.5 M623.5,417.4 L665.5,416.4"/>
  </g>
</svg>

<div class="t" style="left:39.3px;top:180.3px;width:99.1px;height:37.4px">有限空间</div>
<div class="t" style="left:191.5px;top:180.5px;width:56px;height:37.2px">缺氧</div>
<div class="t t2" style="left:289.5px;top:180.7px;width:83px;height:49.1px">易燃易爆<br>气体</div>
<div class="t" style="left:429.3px;top:180.8px;width:91.1px;height:37.1px">有毒气体</div>
<div class="t" style="left:568.5px;top:181.7px;width:134.9px;height:36.9px">其他危害因素</div>

<div class="t" style="left:81.2px;top:255.1px;width:97.3px;height:37.3px">长期关闭</div>
<div class="t" style="left:75.2px;top:304.6px;width:103.3px;height:36.9px">化学反应</div>
<div class="t" style="left:27.4px;top:358.3px;width:151.1px;height:41px">单纯性窒息气体</div>
<div class="t" style="left:81.4px;top:427.7px;width:97.1px;height:36.8px">多人进入</div>
<div class="t t2" style="left:26.8px;top:485.5px;width:150.4px;height:50.6px;letter-spacing:0.3px">相邻管道泄漏<br>或渗透</div>

<div class="t" style="left:356.4px;top:279.6px;width:110.2px;height:36.8px">空间内存在</div>
<div class="t" style="left:356.5px;top:338.5px;width:110px;height:36.8px">作业时产生</div>
<div class="t" style="left:354.5px;top:404.5px;width:110.1px;height:36.8px">外部引入</div>

<div class="t" style="left:540.5px;top:255.7px;width:83px;height:31.8px">淹溺</div>
<div class="t" style="left:527.4px;top:304.8px;width:96.1px;height:36.7px">高处坠落</div>
<div class="t" style="left:540.5px;top:354.7px;width:83px;height:32.7px">触电</div>
<div class="t" style="left:527.4px;top:403.4px;width:96.1px;height:36.9px">机械伤害</div>
</body>
</html>
